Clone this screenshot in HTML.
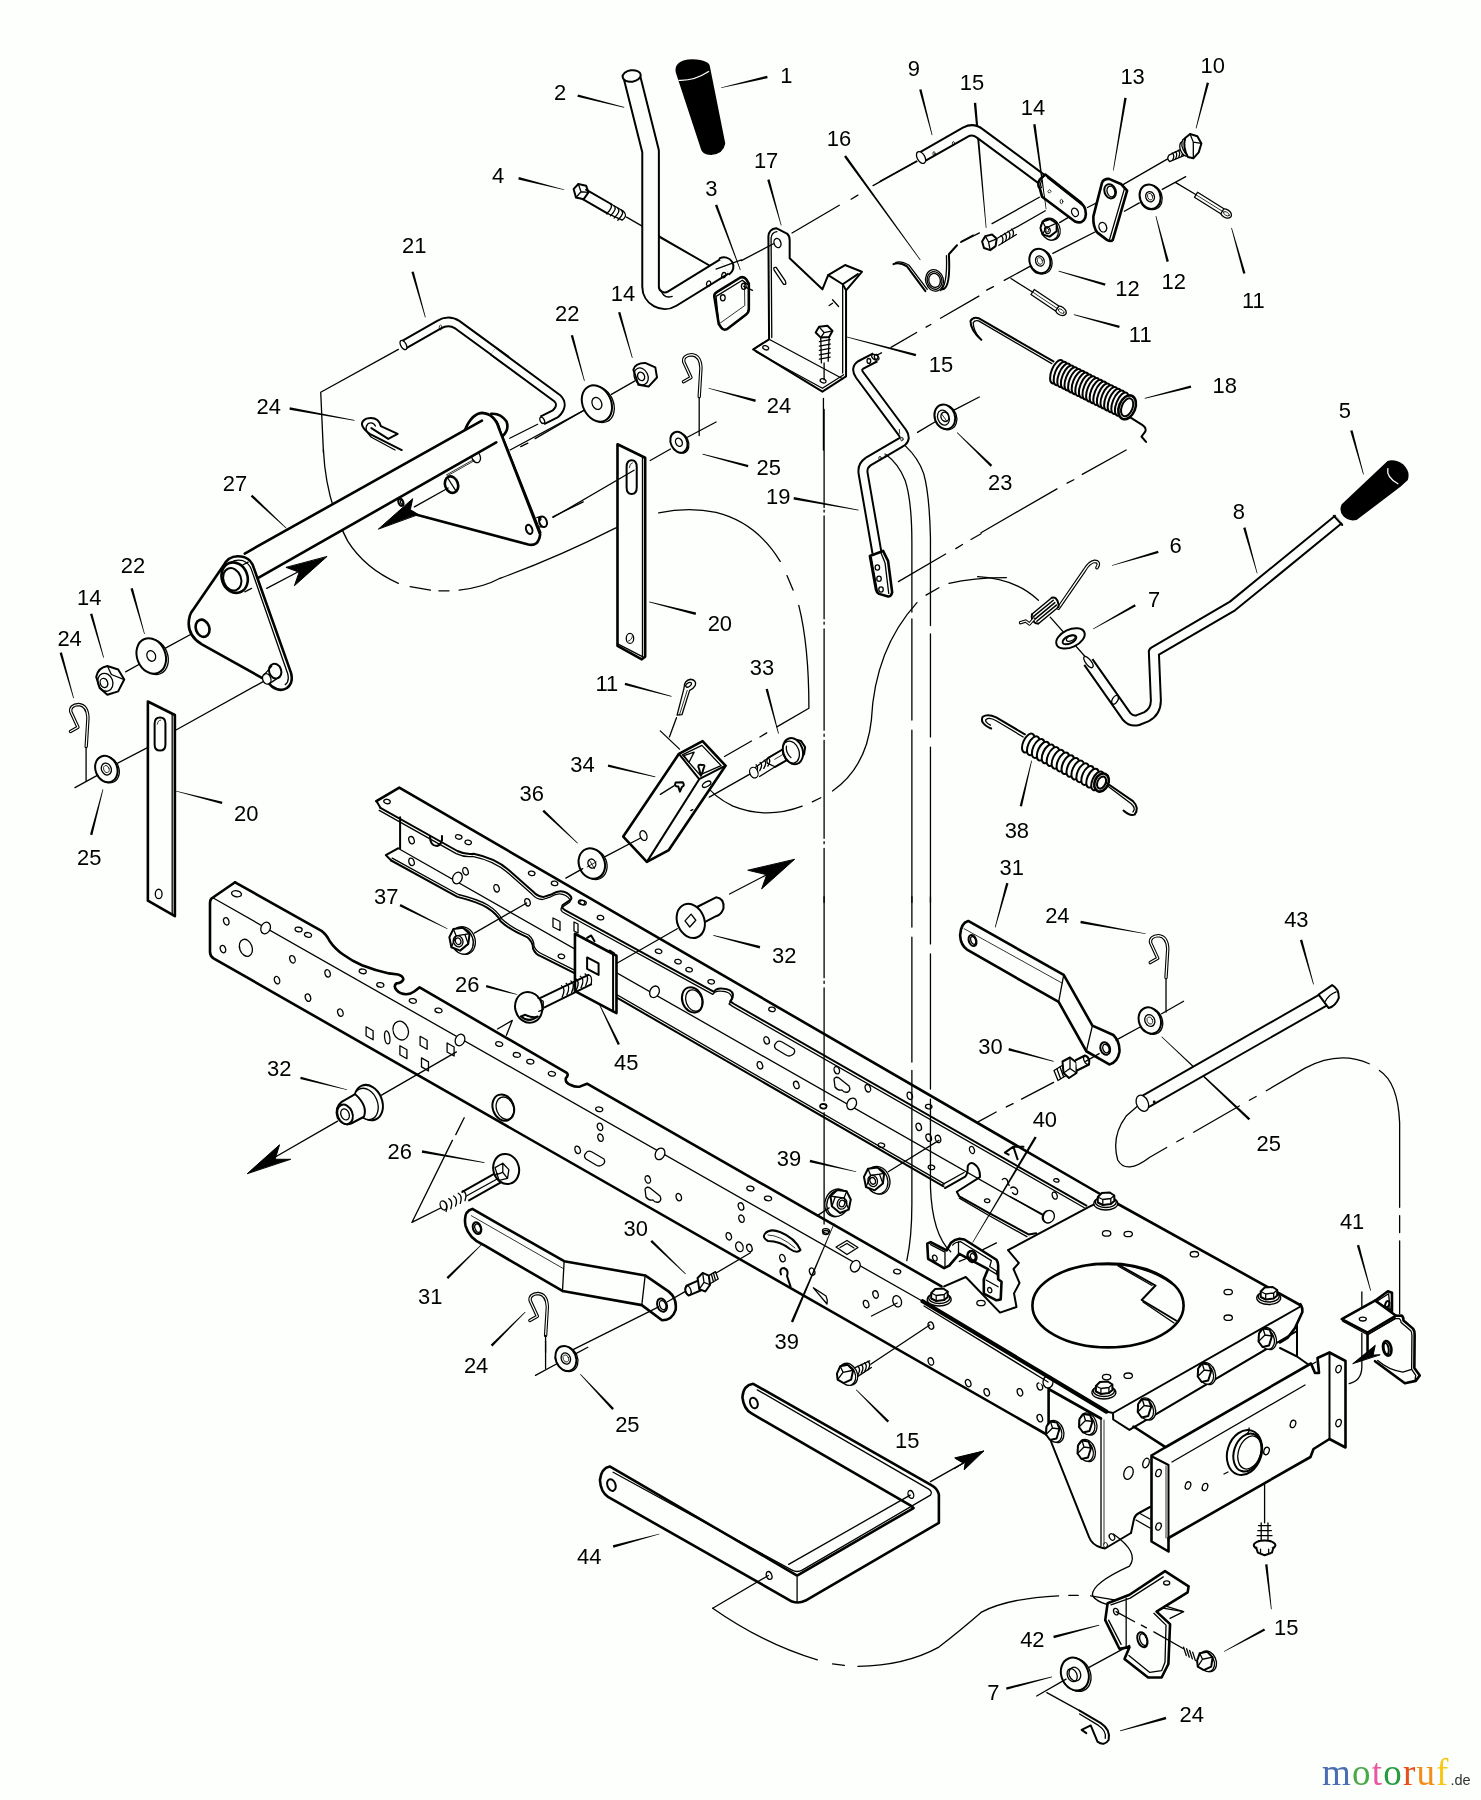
<!DOCTYPE html>
<html><head><meta charset="utf-8"><title>Frame parts diagram</title>
<style>
html,body{margin:0;padding:0;background:#fdfffc;}
body{width:1481px;height:1800px;overflow:hidden;}
svg{display:block;font-family:"Liberation Sans",sans-serif;will-change:transform;}
svg *{vector-effect:non-scaling-stroke;}
.d path,.d line,.d polyline,.d polygon,.d circle,.d ellipse,.d rect{fill:none;stroke:#000;stroke-width:1.5;stroke-linecap:round;stroke-linejoin:round;}
.d .k{stroke-width:2.6;}
.d .m{stroke-width:2.0;}
.d .t{stroke-width:1.3;}
.d .h{stroke-width:.8;}
.d .w{fill:#fdfffc;}
.d .b{fill:#000;}
.d text{fill:#000;stroke:none;font-size:65px;}
.d .dd{stroke-dasharray:60 8 8 8;stroke-width:1;stroke-linecap:butt;}
</style></head><body>
<svg class="d" width="1481" height="1800" viewBox="0 0 1481 1800">
<g transform="translate(0 0) scale(0.33761)">
<text x="1191" y="750">21</text>
<polygon class="b" style="stroke:none" points="1218.58,805.963 1225.42,804.037 1261,939.719 1259,940.281"/>
<text x="760" y="1227">24</text>
<polygon class="b" style="stroke:none" points="857.363,1213.5 858.637,1206.5 1050.19,1243.98 1049.81,1246.02"/>
<path class="t" d="M1180 1035 L950 1162 L958 1340"/>
<path d="M1195 1022 L1300 962 Q1328 945 1355 962 L1500 1068" style="stroke-width:10.5;stroke-linecap:butt"/>
<path d="M1195 1022 L1300 962 Q1328 945 1355 962 L1500 1068" style="stroke:#fdfffc;stroke-width:6.5;stroke-linecap:butt"/>
<ellipse class="t w" cx="1195" cy="1022" rx="8" ry="15" transform="rotate(-30 1195 1022)"/>
<ellipse class="h" cx="1305" cy="970" rx="4" ry="7"/>
<path class="m" d="M1190 1333 L1095 1285 Q1055 1255 1085 1240 Q1120 1232 1128 1262 L1178 1285 L1150 1300 L1100 1268"/>
<path class="t" d="M1170 1333 L1100 1295 Q1075 1270 1090 1255 Q1105 1248 1112 1262"/>
</g>
<g transform="translate(500 0) scale(0.33761)">
<text x="160" y="297">2</text>
<polygon class="b" style="stroke:none" points="229.126,286.445 230.874,279.555 368.255,316.995 367.745,319.005"/>
<text x="830" y="247">1</text>
<polygon class="b" style="stroke:none" points="791.192,224.539 792.808,231.461 655.236,261.01 654.764,258.99"/>
<text x="1208" y="224">9</text>
<polygon class="b" style="stroke:none" points="1241.56,265.892 1248.44,264.108 1281,399.74 1279,400.26"/>
<text x="1362" y="267">15</text>
<polygon class="b" style="stroke:none" points="1403.46,305.316 1410.54,304.684 1441.03,674.908 1438.97,675.092"/>
<text x="968" y="432">16</text>
<polygon class="b" style="stroke:none" points="1019.12,464.084 1024.88,459.916 1245.84,769.392 1244.16,770.608"/>
<text x="752" y="499">17</text>
<polygon class="b" style="stroke:none" points="791.577,532.957 798.423,531.043 833.998,667.721 832.002,668.279"/>
<text x="608" y="582">3</text>
<polygon class="b" style="stroke:none" points="636.67,608.242 643.33,605.758 712.971,799.638 711.029,800.362"/>
<text x="-24" y="542">4</text>
<polygon class="b" style="stroke:none" points="54.1319,531.447 55.8681,524.553 190.253,560.995 189.747,563.005"/>
<text x="328" y="892">14</text>
<polygon class="b" style="stroke:none" points="349.585,925.986 356.415,924.014 392.996,1059.71 391.004,1060.29"/>
<text x="163" y="952">22</text>
<polygon class="b" style="stroke:none" points="209.572,993.94 216.428,992.06 251,1127.73 249,1128.27"/>
<text x="790" y="1224">24</text>
<polygon class="b" style="stroke:none" points="757.914,1183.57 756.086,1190.43 617.733,1151 618.267,1149"/>
<text x="1270" y="1102">15</text>
<polygon class="b" style="stroke:none" points="1232.91,1048.56 1231.09,1055.44 1007.74,994.003 1008.26,991.997"/>
<path class="t" d="M375 643L640 797"/>
<path d="M390 225 L446 448 L446 849 A42 42 0 0 0 509.8 884.6 L665 789" style="stroke-width:18.6;stroke-linecap:butt"/>
<path d="M390 225 L446 448 L446 849 A42 42 0 0 0 509.8 884.6 L665 789" style="stroke:#fdfffc;stroke-width:14.6;stroke-linecap:butt"/>
<path class="m w" d="M650.6 765.6 A27.5 27.5 0 0 1 679.4 812.4"/>
<ellipse class="m w" cx="390" cy="225" rx="27" ry="17" transform="rotate(-8 390 225)"/>
<path class="t" d="M473 703L620 787"/>
<ellipse class="t" cx="618" cy="840" rx="6" ry="8" transform="rotate(20 618 840)"/>
<ellipse class="t" cx="663" cy="815" rx="6" ry="8" transform="rotate(20 663 815)"/>
<path class="t" d="M478 862 Q485 885 510 878"/>
<path class="b" d="M523 215 Q515 180 570 178 Q620 180 620 200 L665 425 Q660 455 625 457 Q600 455 597 440 Z"/>
<path class="t" d="M530 238 Q575 240 618 212" style="stroke:#fdfffc"/>
<path class="m w" d="M218 560 L232 545 L255 550 L262 570 L248 590 L225 585 Z"/>
<path class="t" d="M232 545 L240 568 L262 570 M240 568 L225 585"/>
<path class="m" d="M255 562 L330 605 M245 590 L318 632"/>
<path class="t" d="M330 605 L365 625 Q380 640 362 652 L318 632"/>
<path class="t" d="M326 603 q12 8 -10 30"/>
<path class="t" d="M337 609.5 q12 8 -10 30"/>
<path class="t" d="M348 616 q12 8 -10 30"/>
<path class="t" d="M359 622.5 q12 8 -10 30"/>
<path class="k w" d="M635 880 Q633 870 642 865 L712 822 Q722 818 730 828 L737 840 L737 915 Q737 925 728 932 L672 975 Q662 980 655 970 L648 960 Z"/>
<path class="t" d="M648 960 L640 878 L718 830 L737 845"/>
<path class="h" d="M648 960 L725 905 L724 836"/>
<ellipse class="t" cx="660" cy="882" rx="7" ry="9"/>
<ellipse class="t" cx="722" cy="848" rx="7" ry="9"/>
<path class="t" d="M722 848L748 860"/>
<path class="m w" d="M797 1005 L795 700 Q797 678 818 676 L850 692 Q858 698 858 712 L858 765 L955 857 L972 815 L1022 785 L1072 805 L1025 860 L1025 1115 L955 1160 L750 1035 Z"/>
<path class="t" d="M805 1000 L803 705 Q805 688 820 686"/>
<path class="t" d="M750 1035 L797 1005 L1015 1122"/>
<path class="t" d="M758 1042 L955 1150 L1018 1110"/>
<path class="m" d="M972 815 L1015 842 L1025 860 M1015 842 L1060 812"/>
<path class="t" d="M1015 842 L1015 1105"/>
<ellipse class="t" cx="822" cy="720" rx="10" ry="14" transform="rotate(-20 822 720)"/>
<path class="t" d="M812 800 Q808 790 818 792 L845 832 Q850 845 840 842 Z"/>
<ellipse class="t" cx="787" cy="1030" rx="9" ry="6" transform="rotate(20 787 1030)"/>
<ellipse class="t" cx="957" cy="1128" rx="9" ry="6" transform="rotate(20 957 1128)"/>
<path class="t" d="M985 888 L1003 908 M975 905 L985 898"/>
<path class="m w" d="M935 985 L945 968 L970 965 L985 980 L975 998 L950 1000 Z"/>
<path class="t" d="M945 968 L960 985 L985 980 M960 985 L950 1000"/>
<path class="t" d="M950 1000 L952 1075 M975 998 L972 1070"/>
<path class="t" d="M946 1012L978 1006"/>
<path class="t" d="M946 1025L978 1019"/>
<path class="t" d="M946 1038L978 1032"/>
<path class="t" d="M946 1051L978 1045"/>
<path class="t" d="M946 1064L978 1058"/>
<path class="t" d="M960 1075L960 1125"/>
<path class="t" d="M958 1180L958 1333"/>
<path class="t" d="M640 797 L715 770"/>
<path class="t" d="M715 772 L810 722 M865 690 L1005 608 M1040 590 L1060 578 M1105 550 L1235 478"/>
<path class="t" d="M1365 718 L1420 690"/>
<path class="t" d="M1276 961 L1262 969 M1234 985 L1158 1029 M1130 1045 L1114 1053"/>
<ellipse class="t w" cx="293.72" cy="1197.8" rx="42" ry="56" transform="rotate(-25 293.72 1197.8)"/>
<ellipse class="m w" cx="287" cy="1195" rx="42" ry="56" transform="rotate(-25 287 1195)"/>
<ellipse class="t" cx="287" cy="1195" rx="13.86" ry="18.48" transform="rotate(-25 287 1195)"/>
<path class="m w" d="M395 1095 Q400 1075 430 1075 L460 1088 L465 1118 L440 1145 L410 1140 Z"/>
<ellipse class="t" cx="418" cy="1115" rx="20" ry="26" transform="rotate(-25 418 1115)"/>
<ellipse class="t" cx="418" cy="1115" rx="10" ry="13" transform="rotate(-25 418 1115)"/>
<path class="t" d="M330 1168L400 1128"/>
<path class="t" d="M30 1333L250 1215"/>
<path d="M-20 1040 L170 1180 Q190 1200 165 1225 L125 1245" style="stroke-width:10.5;stroke-linecap:butt"/>
<path d="M-20 1040 L170 1180 Q190 1200 165 1225 L125 1245" style="stroke:#fdfffc;stroke-width:6.5;stroke-linecap:butt"/>
<ellipse class="t w" cx="125" cy="1245" rx="6" ry="10" transform="rotate(-30 125 1245)"/>
</g>
<g transform="translate(0 0) scale(1.00000)">
<g transform="translate(699.2 396.7)">
<path d="M0 0 L1.75 -28.75 Q1.25 -41.25 -7.5 -42 Q-16.25 -41.25 -15.5 -35 L-8.25 -19.25 L-15.75 -15" style="stroke-width:3.4;stroke-linecap:round"/>
<path d="M0 0 L1.75 -28.75 Q1.25 -41.25 -7.5 -42 Q-16.25 -41.25 -15.5 -35 L-8.25 -19.25 L-15.75 -15" style="stroke:#fdfffc;stroke-width:1.2;stroke-linecap:round"/>
</g>
</g>
<g transform="translate(500 0) scale(0.33761)">
<path class="t" d="M590 1178L590 1290"/>
<ellipse class="t w" cx="533.84" cy="1311.6" rx="24" ry="32" transform="rotate(-25 533.84 1311.6)"/>
<ellipse class="m w" cx="530" cy="1310" rx="24" ry="32" transform="rotate(-25 530 1310)"/>
<ellipse class="t" cx="530" cy="1310" rx="9.6" ry="12.8" transform="rotate(-25 530 1310)"/>
<path class="t" d="M555 1295L640 1250"/>
</g>
<g transform="translate(880 80) scale(0.27009)">
<path class="t" d="M0 375 L135 300 M300 598 L345 574 M415 532 L590 434 M500 548 L612 484 M665 528 L722 494 M1065 292 L895 390 M855 428 L768 472 M825 548 L640 642 M960 455 L905 486 M1045 405 L1132 358 M1095 380 L1172 426 M555 690 L460 742 M420 765 L395 778 M366 800 L224 882 M485 735 L566 786"/>
<path d="M150 288 L318 192 Q345 178 370 198 L605 372" style="stroke-width:12.2;stroke-linecap:butt"/>
<path d="M150 288 L318 192 Q345 178 370 198 L605 372" style="stroke:#fdfffc;stroke-width:8.2;stroke-linecap:butt"/>
<ellipse class="t w" cx="152" cy="287" rx="14" ry="24" transform="rotate(-30 152 287)"/>
<ellipse class="h" cx="200" cy="272" rx="4" ry="7"/>
<ellipse class="h" cx="272" cy="235" rx="4" ry="7"/>
<path class="k w" d="M592 402 Q580 385 592 368 L612 350 L745 455 Q768 478 760 510 Q748 535 722 524 L600 432 Z"/>
<path class="t" d="M600 372 Q590 385 598 398 M620 362 L750 465"/>
<path class="h" d="M622 412 l6 -6 l6 6 l-6 6 Z"/>
<ellipse class="h" cx="672" cy="450" rx="5" ry="8"/>
<ellipse class="t" cx="722" cy="490" rx="12" ry="16" transform="rotate(-25 722 490)"/>
<path class="m w" d="M378 598 L390 578 L415 572 L432 588 L428 615 L408 630 L385 622 Z"/>
<path class="t" d="M390 578 L402 600 L432 588 M402 600 L408 630"/>
<path class="t" d="M436 585 L498 548 M440 612 L505 572"/>
<path class="t" d="M448 576 q12 8 4 28"/>
<path class="t" d="M461 568 q12 8 4 28"/>
<path class="t" d="M474 560 q12 8 4 28"/>
<path class="t" d="M487 552 q12 8 4 28"/>
<ellipse class="t w" cx="632" cy="552" rx="34" ry="42" transform="rotate(-25 632 552)"/>
<ellipse class="t w" cx="628" cy="555" rx="31" ry="39" transform="rotate(-25 628 555)"/>
<path class="m w" d="M594 548 L602 524 L630 515 L654 530 L654 560 L628 580 L602 572 Z"/>
<path class="t" d="M602 524 L614 548 L602 572 M614 548 L654 530"/>
<ellipse class="t" cx="620" cy="556" rx="10" ry="13" transform="rotate(-20 620 556)"/>
<ellipse class="h" cx="620" cy="556" rx="5" ry="7" transform="rotate(-20 620 556)"/>
<path class="k w" d="M790 505 L822 380 Q828 365 848 366 L892 385 L915 410 L862 592 Q855 600 840 592 L805 565 Q788 545 790 505 Z"/>
<path class="t" d="M892 385 L905 402 L850 590"/>
<ellipse class="m" cx="852" cy="412" rx="21" ry="27" transform="rotate(-20 852 412)"/>
<ellipse class="t" cx="855" cy="413" rx="14" ry="20" transform="rotate(-20 855 413)"/>
<ellipse class="t" cx="825" cy="545" rx="14" ry="18" transform="rotate(-20 825 545)"/>
<path class="t w" d="M1070 278 Q1060 290 1072 302 L1125 280 L1118 255 Z"/>
<path class="t" d="M1082 270 q10 8 2 26"/>
<path class="t" d="M1093 265 q10 8 2 26"/>
<path class="t" d="M1104 260 q10 8 2 26"/>
<path class="t" d="M1115 255 q10 8 2 26"/>
<ellipse class="t w" cx="1128" cy="255" rx="16" ry="28" transform="rotate(-22 1128 255)"/>
<ellipse class="t w" cx="1140" cy="248" rx="20" ry="34" transform="rotate(-22 1140 248)"/>
<path class="m w" d="M1130 215 L1148 200 L1175 208 L1190 235 L1180 268 L1160 290 L1140 285 Q1120 250 1130 215 Z"/>
<path class="t" d="M1148 200 L1160 230 L1190 235 M1160 230 L1160 290"/>
<ellipse class="t w" cx="1006.08" cy="434.3" rx="38" ry="46" transform="rotate(-20 1006.08 434.3)"/>
<ellipse class="m w" cx="1000" cy="432" rx="38" ry="46" transform="rotate(-20 1000 432)"/>
<ellipse class="t" cx="1000" cy="432" rx="15.96" ry="19.32" transform="rotate(-20 1000 432)"/>
<ellipse class="h" cx="1000" cy="432" rx="9" ry="13" transform="rotate(-20 1000 432)"/>
<path class="t" d="M965 452 Q985 490 1020 476"/>
<ellipse class="t w" cx="598.08" cy="672.3" rx="38" ry="46" transform="rotate(-20 598.08 672.3)"/>
<ellipse class="m w" cx="592" cy="670" rx="38" ry="46" transform="rotate(-20 592 670)"/>
<ellipse class="t" cx="592" cy="670" rx="15.96" ry="19.32" transform="rotate(-20 592 670)"/>
<ellipse class="h" cx="592" cy="670" rx="9" ry="13" transform="rotate(-20 592 670)"/>
<path class="t" d="M557 690 Q577 728 612 714"/>
<ellipse class="t w" cx="1281.04" cy="494.4" rx="22" ry="15" transform="rotate(32.0054 1281.04 494.4)"/>
<ellipse class="h" cx="1282.74" cy="495.46" rx="12" ry="6" transform="rotate(32.0054 1282.74 495.46)"/>
<path class="t w" d="M1164.17 434.328 L1261.64 495.248 L1273.3 476.592 L1175.83 415.672 Z"/>
<path class="h" d="M1170 425L1272.56 489.1"/>
<ellipse class="t w" cx="669.38" cy="854.874" rx="22" ry="15" transform="rotate(33.7992 669.38 854.874)"/>
<ellipse class="h" cx="671.042" cy="855.987" rx="12" ry="6" transform="rotate(33.7992 671.042 855.987)"/>
<path class="t w" d="M558.881 794.141 L649.965 855.115 L662.203 836.833 L571.119 775.859 Z"/>
<path class="h" d="M565 785L661.07 849.311"/>
<path class="m" d="M50 682 Q70 672 100 690 L168 782"/>
<path class="t" d="M58 676 Q75 668 108 686 L175 775"/>
<ellipse class="t" cx="202" cy="742" rx="32.8" ry="40" transform="rotate(-15 202 742)"/>
<ellipse class="t" cx="202" cy="742" rx="27.06" ry="33" transform="rotate(-15 202 742)"/>
<ellipse class="t" cx="202" cy="742" rx="21.32" ry="26" transform="rotate(-15 202 742)"/>
<path class="m" d="M232 775 Q262 770 255 645 L285 612"/>
<path class="t" d="M224 780 Q250 760 246 650"/>
<path class="m" d="M375 962 Q335 925 335 892 Q345 875 365 882 L642 1042"/>
<path class="t" d="M368 955 Q345 925 345 898 Q352 888 365 892 L636 1050"/>
<ellipse class="m w" cx="655" cy="1080" rx="20" ry="46" transform="rotate(22 655 1080)"/>
<ellipse class="m w" cx="668.333" cy="1086.67" rx="20" ry="46" transform="rotate(22 668.333 1086.67)"/>
<ellipse class="m w" cx="681.667" cy="1093.33" rx="20" ry="46" transform="rotate(22 681.667 1093.33)"/>
<ellipse class="m w" cx="695" cy="1100" rx="20" ry="46" transform="rotate(22 695 1100)"/>
<ellipse class="m w" cx="708.333" cy="1106.67" rx="20" ry="46" transform="rotate(22 708.333 1106.67)"/>
<ellipse class="m w" cx="721.667" cy="1113.33" rx="20" ry="46" transform="rotate(22 721.667 1113.33)"/>
<ellipse class="m w" cx="735" cy="1120" rx="20" ry="46" transform="rotate(22 735 1120)"/>
<ellipse class="m w" cx="748.333" cy="1126.67" rx="20" ry="46" transform="rotate(22 748.333 1126.67)"/>
<ellipse class="m w" cx="761.667" cy="1133.33" rx="20" ry="46" transform="rotate(22 761.667 1133.33)"/>
<ellipse class="m w" cx="775" cy="1140" rx="20" ry="46" transform="rotate(22 775 1140)"/>
<ellipse class="m w" cx="788.333" cy="1146.67" rx="20" ry="46" transform="rotate(22 788.333 1146.67)"/>
<ellipse class="m w" cx="801.667" cy="1153.33" rx="20" ry="46" transform="rotate(22 801.667 1153.33)"/>
<ellipse class="m w" cx="815" cy="1160" rx="20" ry="46" transform="rotate(22 815 1160)"/>
<ellipse class="m w" cx="828.333" cy="1166.67" rx="20" ry="46" transform="rotate(22 828.333 1166.67)"/>
<ellipse class="m w" cx="841.667" cy="1173.33" rx="20" ry="46" transform="rotate(22 841.667 1173.33)"/>
<ellipse class="m w" cx="855" cy="1180" rx="20" ry="46" transform="rotate(22 855 1180)"/>
<ellipse class="m w" cx="868.333" cy="1186.67" rx="20" ry="46" transform="rotate(22 868.333 1186.67)"/>
<ellipse class="m w" cx="881.667" cy="1193.33" rx="20" ry="46" transform="rotate(22 881.667 1193.33)"/>
<ellipse class="m w" cx="895" cy="1200" rx="20" ry="46" transform="rotate(22 895 1200)"/>
<ellipse class="k w" cx="915" cy="1212" rx="30" ry="46" transform="rotate(22 915 1212)"/>
<ellipse class="m" cx="915" cy="1212" rx="20" ry="35" transform="rotate(22 915 1212)"/>
<path class="m" d="M928 1250 L972 1278 Q990 1290 980 1305 L968 1320 L985 1340"/>
</g>
<g transform="translate(981 0) scale(0.33761)">
<text x="650" y="215">10</text>
<polygon class="b" style="stroke:none" points="668.559,244.108 675.441,245.892 638.004,380.26 635.996,379.74"/>
<text x="413" y="250">13</text>
<polygon class="b" style="stroke:none" points="424.494,289.413 431.506,290.587 393.022,505.171 390.978,504.829"/>
<text x="118" y="340">14</text>
<polygon class="b" style="stroke:none" points="154.479,368.489 161.521,367.511 194.027,619.857 191.973,620.143"/>
<text x="398" y="877">12</text>
<polygon class="b" style="stroke:none" points="368.99,839.586 367.01,846.414 229.711,803.996 230.289,802.004"/>
<text x="535" y="855">12</text>
<polygon class="b" style="stroke:none" points="556.441,774.108 549.559,775.892 516.996,640.26 519.004,639.74"/>
<text x="773" y="913">11</text>
<polygon class="b" style="stroke:none" points="783.421,809.037 776.579,810.963 741.002,675.281 742.998,674.719"/>
<text x="438" y="1013">11</text>
<polygon class="b" style="stroke:none" points="410.916,964.566 409.084,971.434 274.733,933.002 275.267,930.998"/>
<text x="686" y="1165">18</text>
<polygon class="b" style="stroke:none" points="621.12,1141.56 622.88,1148.44 485.257,1181 484.743,1179"/>
<text x="1060" y="1238">5</text>
<polygon class="b" style="stroke:none" points="1093.57,1275.95 1100.43,1274.05 1134,1404.72 1132,1405.28"/>
</g>
<g transform="translate(0 450) scale(0.33761)">
<text x="660" y="120">27</text>
<polygon class="b" style="stroke:none" points="742.563,137.588 747.437,132.412 848.711,231.245 847.289,232.755"/>
<text x="358" y="365">22</text>
<polygon class="b" style="stroke:none" points="386.579,410.963 393.421,409.037 428.998,544.719 427.002,545.281"/>
<text x="228" y="458">14</text>
<polygon class="b" style="stroke:none" points="266.581,485.973 273.419,484.027 307.997,614.716 306.003,615.284"/>
<text x="170" y="580">24</text>
<polygon class="b" style="stroke:none" points="176.579,600.963 183.421,599.037 218.998,734.719 217.002,735.281"/>
<text x="693" y="1098">20</text>
<polygon class="b" style="stroke:none" points="658.874,1041.55 657.126,1048.45 519.745,1011 520.255,1009"/>
<text x="228" y="1228">25</text>
<polygon class="b" style="stroke:none" points="273.441,1140.89 266.559,1139.11 303.996,1004.74 306.004,1005.26"/>
<path class="t" d="M958 0 Q965 150 1030 270 Q1080 350 1180 395"/>
<path class="t" d="M1215 405 L1275 415 M1300 417 L1330 417 M1360 415 Q1430 408 1481 380"/>
<path class="t" d="M490 587L582 537"/>
<path class="t" d="M372 657L430 625"/>
<path class="t" d="M520 830L790 680"/>
<path class="t" d="M222 1000L295 960"/>
<path class="t" d="M340 932L478 860"/>
<path class="t" d="M255 880L255 980"/>
</g>
<g transform="translate(330 380) scale(0.16880)">
<path class="t" d="M1065 345 L1230 262 M1130 395 L1172 374 M1215 347 L1500 182 M1320 810 L1500 722"/>
<path class="k w" d="M955 200 Q1010 195 1045 245 Q1065 295 1020 335"/>
<ellipse class="m w" cx="1262" cy="840" rx="22" ry="32" transform="rotate(-20 1262 840)"/>
<ellipse class="t" cx="1243" cy="822" rx="6" ry="9" transform="rotate(-20 1243 822)"/>
<path class="t" d="M1225 815 L1250 808 M1238 870 L1265 870"/>
<path class="w" d="M480 790 L1175 975 Q1235 988 1245 915 L1000 285 Q975 200 900 195 Q840 200 800 295 Z" style="stroke:none"/>
<path class="k" d="M480 790 L1175 975 Q1235 988 1245 915 L1000 285 Q975 200 900 195 Q840 200 800 295"/>
<path class="t" d="M985 240 Q1000 260 1010 300 L1250 905"/>
<ellipse class="t" cx="865" cy="455" rx="25" ry="36" transform="rotate(-20 865 455)"/>
<ellipse class="k" cx="720" cy="620" rx="38" ry="50" transform="rotate(-20 720 620)"/>
<path class="t" d="M700 585L745 655"/>
<ellipse class="m" cx="1180" cy="885" rx="18" ry="28" transform="rotate(-20 1180 885)"/>
<path class="h" d="M690 562 L850 472 M695 568 L855 478"/>
<path class="t" d="M500 752L700 640"/>
<path class="w" d="M-520 1037 L900 240 L985 370 L-480 1203 Z" style="stroke:none"/>
<path class="k" d="M-505 1028L900 240"/>
<path class="k" d="M-425 1172L985 370"/>
<ellipse class="m w" cx="420" cy="725" rx="14" ry="22" transform="rotate(-20 420 725)"/>
<ellipse class="t" cx="425" cy="725" rx="7" ry="12" transform="rotate(-20 425 725)"/>
<path class="b" d="M288 882 L490 703 L476 768 L522 796 Z" style="stroke-width:1"/>
</g>
<g transform="translate(0 450) scale(0.33761)">
<path class="t" d="M790 410L885 360"/>
<path class="b" d="M968 316 L872 402 L886 362 L848 348 Z" style="stroke-width:1"/>
<path class="k w" d="M660 345 Q680 305 725 318 Q745 325 752 350 L862 660 Q870 690 850 705 Q830 718 805 700 L785 680 L598 576 Q548 545 562 492 Q565 482 570 476 Z"/>
<path class="t" d="M668 352 Q685 320 720 328 Q738 335 745 355 L852 662 Q858 685 845 695"/>
<ellipse class="k w" cx="695" cy="378" rx="38" ry="46" transform="rotate(-20 695 378)"/>
<ellipse class="m" cx="688" cy="383" rx="26" ry="34" transform="rotate(-20 688 383)"/>
<path class="t" d="M720 340 L735 332 M725 420 L745 410"/>
<ellipse class="k" cx="600" cy="528" rx="20" ry="26" transform="rotate(-20 600 528)"/>
<ellipse class="m w" cx="815" cy="655" rx="18" ry="22" transform="rotate(-20 815 655)"/>
<ellipse class="t w" cx="790" cy="678" rx="12" ry="16" transform="rotate(-20 790 678)"/>
<path class="t" d="M782 666 L805 640 M798 692 L828 672"/>
<ellipse class="t w" cx="454.72" cy="612.7" rx="42" ry="54" transform="rotate(-22 454.72 612.7)"/>
<ellipse class="m w" cx="448" cy="610" rx="42" ry="54" transform="rotate(-22 448 610)"/>
<ellipse class="t" cx="448" cy="610" rx="12.6" ry="16.2" transform="rotate(-22 448 610)"/>
<path class="m w" d="M285 672 Q290 645 318 640 L350 650 L368 680 L350 715 L318 725 L295 705 Z"/>
<ellipse class="t" cx="312" cy="688" rx="22" ry="27" transform="rotate(-20 312 688)"/>
<ellipse class="t" cx="308" cy="690" rx="11" ry="14" transform="rotate(-20 308 690)"/>
<path class="t" d="M318 640 L330 665 L368 680"/>
</g>
<g transform="translate(0 0) scale(1.00000)">
<g transform="translate(86.2 746.5)">
<path d="M0 0 L1.75 -28.75 Q1.25 -41.25 -7.5 -42 Q-16.25 -41.25 -15.5 -35 L-8.25 -19.25 L-15.75 -15" style="stroke-width:3.4;stroke-linecap:round"/>
<path d="M0 0 L1.75 -28.75 Q1.25 -41.25 -7.5 -42 Q-16.25 -41.25 -15.5 -35 L-8.25 -19.25 L-15.75 -15" style="stroke:#fdfffc;stroke-width:1.2;stroke-linecap:round"/>
</g>
</g>
<g transform="translate(0 450) scale(0.33761)">
<ellipse class="t w" cx="320.12" cy="947" rx="32" ry="40" transform="rotate(-22 320.12 947)"/>
<ellipse class="m w" cx="315" cy="945" rx="32" ry="40" transform="rotate(-22 315 945)"/>
<ellipse class="t" cx="315" cy="945" rx="14.4" ry="18" transform="rotate(-22 315 945)"/>
<ellipse class="h" cx="315" cy="945" rx="8" ry="11" transform="rotate(-22 315 945)"/>
<path class="k w" d="M438 745 L518 785 L518 1381 L438 1335 Z"/>
<path class="t" d="M510 782L510 1376"/>
<path class="m" d="M458 810 Q458 792 474 792 Q490 792 490 810 L490 872 Q490 890 474 890 Q458 890 458 872 Z"/>
<path class="h" d="M466 812 Q468 800 476 800"/>
<ellipse class="t" cx="470" cy="1315" rx="10" ry="14"/>
</g>
<g transform="translate(800 320) scale(0.20257)">
<text style="font-size:108px" x="928" y="838">23</text>
<polygon class="b" style="stroke:none" points="949.126,715.749 940.874,724.251 773.797,556.24 776.203,553.76"/>
<path class="t" d="M885 380 L760 445 M680 495 L580 555"/>
<path d="M372 184 L300 222 Q272 240 295 272 L505 555 Q528 588 495 606 L335 700 Q305 720 312 760 L380 1150" style="stroke-width:11;stroke-linecap:butt"/>
<path d="M372 184 L300 222 Q272 240 295 272 L505 555 Q528 588 495 606 L335 700 Q305 720 312 760 L380 1150" style="stroke:#fdfffc;stroke-width:7;stroke-linecap:butt"/>
<ellipse class="t w" cx="372" cy="184" rx="12" ry="20" transform="rotate(-60 372 184)"/>
<ellipse class="t" cx="340" cy="202" rx="9" ry="12"/>
<ellipse class="t" cx="376" cy="182" rx="9" ry="12"/>
<ellipse class="h" cx="503" cy="588" rx="6" ry="9"/>
<ellipse class="h" cx="395" cy="682" rx="6" ry="9"/>
<path class="h" d="M490 540 L492 560 M420 660 L422 678"/>
<path class="k w" d="M345 1165 L410 1140 L435 1190 L455 1345 Q450 1365 435 1365 L390 1352 Q378 1345 375 1330 Z"/>
<path class="t" d="M400 1150 L420 1200 L438 1350 M352 1172 L382 1340"/>
<ellipse class="t" cx="382" cy="1222" rx="11" ry="13"/>
<ellipse class="t" cx="390" cy="1277" rx="11" ry="13"/>
<ellipse class="t" cx="400" cy="1330" rx="11" ry="13"/>
<ellipse class="t w" cx="723" cy="481.1" rx="50" ry="62" transform="rotate(-20 723 481.1)"/>
<ellipse class="m w" cx="715" cy="478" rx="50" ry="62" transform="rotate(-20 715 478)"/>
<ellipse class="t" cx="715" cy="478" rx="19" ry="23.56" transform="rotate(-20 715 478)"/>
<ellipse class="t" cx="708" cy="482" rx="28" ry="38" transform="rotate(-20 708 482)"/>
<path class="h" d="M700 465L725 500"/>
</g>
<g transform="translate(500 450) scale(0.33761)">
<text x="760" y="75">25</text>
<polygon class="b" style="stroke:none" points="735.916,44.5656 734.084,51.4344 599.733,13.0017 600.267,10.9983"/>
<text x="788" y="160">19</text>
<polygon class="b" style="stroke:none" points="869.363,146.497 870.637,139.503 1062.19,176.98 1061.81,179.02"/>
<text x="615" y="535">20</text>
<polygon class="b" style="stroke:none" points="580.874,481.555 579.126,488.445 441.745,451.005 442.255,448.995"/>
<text x="283" y="715">11</text>
<polygon class="b" style="stroke:none" points="369.08,696.433 370.92,689.567 508.268,728.999 507.732,731.001"/>
<text x="740" y="665">33</text>
<polygon class="b" style="stroke:none" points="786.564,708.911 793.436,707.089 826.002,839.734 823.998,840.266"/>
<text x="208" y="955">34</text>
<polygon class="b" style="stroke:none" points="319.185,938.46 320.815,931.54 460.238,966.991 459.762,969.009"/>
<text x="58" y="1040">36</text>
<polygon class="b" style="stroke:none" points="125.551,1070.58 130.449,1065.42 230.714,1164.25 229.286,1165.75"/>
<path class="t" d="M0 380 Q170 318 340 232 L430 196 M470 186 Q560 168 640 185 Q760 215 830 330 M850 372 L868 415 M885 460 Q915 580 915 765 L820 820"/>
<path class="t" d="M790 838 L770 850 M745 862 L665 908"/>
<path class="t" d="M960 -120 L960 170 M960 178 L960 184 M960 195 L960 500 M960 510 L960 516 M960 530 L960 830 M960 842 L960 848 M960 860 L960 1150 M960 1160 L960 1166 M960 1180 L960 1340"/>
<path class="t" d="M1144 14 Q1180 40 1200 90 Q1220 150 1220 275 L1220 480 M1220 500 L1220 800 M1220 830 L1220 1340"/>
<path class="t" d="M1200 -13 Q1240 25 1255 70 Q1272 130 1275 260 L1275 520 M1275 545 L1275 850 M1275 880 L1275 1340"/>
<path class="t" d="M1500 378 Q1400 378 1330 395 M1300 408 L1262 430 M1235 452 Q1110 590 1100 800 Q1085 940 985 1010 M950 1030 L925 1042 M895 1055 Q790 1095 690 1055 Q630 1025 610 990"/>
<path class="t" d="M1425 248 L1395 265 M1370 280 L1350 292 M1320 308 L1180 390"/>
<path class="k w" d="M348 -17 L348 580 L420 620 L430 612 L430 23 Z"/>
<path class="t" d="M422 20 L422 612 M350 575 L422 612"/>
<path class="t" d="M157 200L397 60"/>
<path class="t" d="M445 31L505 -3"/>
<path class="m" d="M375 50 Q375 30 390 30 Q405 30 405 50 L405 110 Q405 130 390 130 Q375 130 375 110 Z"/>
<path class="h" d="M383 52 Q384 40 392 38"/>
<ellipse class="t" cx="385" cy="558" rx="11" ry="15"/>
<path class="h" d="M380 566 Q392 562 392 550"/>
</g>
<g transform="translate(560 660) scale(0.20257)">
<path class="t" d="M575 285 L540 380 M495 350 L590 440"/>
<path class="t w" d="M578 272 L612 140 Q612 100 645 95 Q675 100 668 125 Q660 140 640 150 L602 270 Z"/>
<ellipse class="t" cx="635" cy="122" rx="16" ry="9" transform="rotate(-35 635 122)"/>
<path class="h" d="M590 270L628 150"/>
<path class="m" d="M1115 432 L1030 482 M1142 482 L1062 527"/>
<path class="t" d="M1030 482 Q1015 495 1025 510 L1062 527"/>
<path class="h" d="M1060 490 L1120 455"/>
<path class="t" d="M1030 482 L962 532 M1062 527 L985 575"/>
<path class="t" d="M1028 484 q16 10 -2 40"/>
<path class="t" d="M1008 495 q16 10 -2 40"/>
<path class="t" d="M988 506 q16 10 -2 40"/>
<path class="t" d="M968 517 q16 10 -2 40"/>
<ellipse class="t w" cx="957" cy="556" rx="20" ry="27" transform="rotate(-20 957 556)"/>
<path class="m" d="M1160 392 L1190 400 L1210 430 L1205 465 L1185 490"/>
<ellipse class="m w" cx="1150" cy="450" rx="48" ry="66" transform="rotate(-18 1150 450)"/>
<ellipse class="t" cx="1140" cy="455" rx="40" ry="56" transform="rotate(-18 1140 455)"/>
<path class="t" d="M1118 425 Q1112 455 1140 482"/>
</g>
<g transform="translate(500 450) scale(0.33761)">
<path class="k w" d="M530 900 L600 862 L668 935 L500 1185 L435 1220 L365 1145 Z"/>
<path class="m" d="M530 900 L590 975 L668 935 M590 975 L435 1220"/>
<path class="t" d="M540 903 L598 875 L655 935 L592 962 Z"/>
<path class="t" d="M545 905 L575 895 L560 925 Z"/>
<path class="m" d="M590 945 q-8 -15 8 -12 q12 -2 5 10 q-2 10 -8 22 Z"/>
<path class="m" d="M520 985 q-5 12 8 12 l5 15 l6 -14 q10 -4 2 -14 Z"/>
<path class="t" d="M475 1020L515 995"/>
<ellipse class="t" cx="425" cy="1142" rx="10" ry="15" transform="rotate(-20 425 1142)"/>
<ellipse class="t" cx="612" cy="990" rx="14" ry="7" transform="rotate(-30 612 990)"/>
<path class="t" d="M565 1068 l6 -3"/>
<path class="t" d="M740 960L620 1028"/>
<ellipse class="t w" cx="278.08" cy="1227.3" rx="38" ry="46" transform="rotate(-22 278.08 1227.3)"/>
<ellipse class="m w" cx="272" cy="1225" rx="38" ry="46" transform="rotate(-22 272 1225)"/>
<ellipse class="t" cx="272" cy="1225" rx="11.4" ry="13.8" transform="rotate(-22 272 1225)"/>
<path class="h" d="M265 1215L280 1240"/>
<path class="h" d="M258 1235L285 1220"/>
<path class="t" d="M310 1205L415 1150"/>
<path class="t" d="M195 1268L245 1240"/>
<path class="t" d="M680 1315L790 1258"/>
<path class="b" d="M872 1213 L775 1300 L790 1258 L735 1245 Z" style="stroke-width:1"/>
</g>
<g transform="translate(981 450) scale(0.33761)">
<text x="746" y="205">8</text>
<polygon class="b" style="stroke:none" points="776.579,230.963 783.421,229.037 818.998,364.719 817.002,365.281"/>
<text x="558" y="305">6</text>
<polygon class="b" style="stroke:none" points="524.004,298.588 525.996,305.412 388.291,342.995 387.709,341.005"/>
<text x="495" y="465">7</text>
<polygon class="b" style="stroke:none" points="455.263,456.899 458.737,463.101 332.507,530.905 331.493,529.095"/>
<text x="70" y="1148">38</text>
<polygon class="b" style="stroke:none" points="121.459,1055.82 114.541,1054.18 148.991,919.761 151.009,920.239"/>
<text x="55" y="1258">31</text>
<polygon class="b" style="stroke:none" points="74.5727,1282.06 81.4273,1283.94 42.9996,1414.27 41.0004,1413.73"/>
<path class="t" d="M430 0 L300 72 M275 88 L255 98 M225 115 L0 245"/>
<path class="t" d="M-10 375 Q100 380 170 445"/>
<path class="t" d="M205 495L320 625"/>
<path class="b" d="M1205 35 Q1225 28 1250 45 Q1270 65 1262 88 L1240 108 L1112 205 Q1090 210 1075 195 Q1062 180 1070 162 Z"/>
<path class="t" d="M1205 55 Q1200 80 1235 100" style="stroke:#fdfffc"/>
<path d="M1060 205 L745 462 L512 598 L518 742 Q518 775 490 790 L465 800 Q445 805 432 790 L318 628" style="stroke-width:12;stroke-linecap:butt"/>
<path d="M1060 205 L745 462 L512 598 L518 742 Q518 775 490 790 L465 800 Q445 805 432 790 L318 628" style="stroke:#fdfffc;stroke-width:8;stroke-linecap:butt"/>
<path class="m" d="M1045 195 L1070 222"/>
<ellipse class="t w" cx="318" cy="628" rx="20" ry="8" transform="rotate(52 318 628)"/>
<ellipse class="t w" cx="397" cy="740" rx="8" ry="14" transform="rotate(30 397 740)"/>
</g>
<g transform="translate(1000 540) scale(0.13504)">
<path d="M432 505 L625 225 Q660 165 700 158 Q745 160 718 205" style="stroke-width:3.6;stroke-linecap:round"/>
<path d="M432 505 L625 225 Q660 165 700 158 Q745 160 718 205" style="stroke:#fdfffc;stroke-width:1.4;stroke-linecap:round"/>
<path class="w" d="M240 545 L385 425 Q420 420 432 470 Q440 500 420 520 L290 620 Q255 625 240 590 Z" style="stroke:none"/>
<path d="M238 548 L383 428"/>
<path d="M249.5 566 L394.5 446"/>
<path d="M261 584 L406 464"/>
<path d="M272.5 602 L417.5 482"/>
<path d="M284 620 L429 500"/>
<path class="m" d="M383 428 Q420 418 432 470 Q438 500 428 498"/>
<path class="m" d="M238 548 Q228 580 250 605 Q265 622 283 618"/>
<path d="M250 585 L218 622 L190 600 L152 612" style="stroke-width:3.4;stroke-linecap:round"/>
<path d="M250 585 L218 622 L190 600 L152 612" style="stroke:#fdfffc;stroke-width:1.2;stroke-linecap:round"/>
</g>
<g transform="translate(981 450) scale(0.33761)">
<ellipse class="m w" cx="265" cy="558" rx="45" ry="26" transform="rotate(-25 265 558)"/>
<ellipse class="m" cx="262" cy="562" rx="22" ry="11" transform="rotate(-25 262 562)"/>
<ellipse class="t" cx="266" cy="558" rx="14" ry="7" transform="rotate(-25 266 558)"/>
<path class="m" d="M30 825 Q-5 810 5 790 Q20 780 45 792 L130 842"/>
<path class="t" d="M28 815 Q10 805 15 798 Q25 790 45 802 L125 850"/>
<ellipse class="m w" cx="140" cy="868" rx="15" ry="30" transform="rotate(25 140 868)"/>
<ellipse class="m w" cx="154.643" cy="876" rx="15" ry="30" transform="rotate(25 154.643 876)"/>
<ellipse class="m w" cx="169.286" cy="884" rx="15" ry="30" transform="rotate(25 169.286 884)"/>
<ellipse class="m w" cx="183.929" cy="892" rx="15" ry="30" transform="rotate(25 183.929 892)"/>
<ellipse class="m w" cx="198.571" cy="900" rx="15" ry="30" transform="rotate(25 198.571 900)"/>
<ellipse class="m w" cx="213.214" cy="908" rx="15" ry="30" transform="rotate(25 213.214 908)"/>
<ellipse class="m w" cx="227.857" cy="916" rx="15" ry="30" transform="rotate(25 227.857 916)"/>
<ellipse class="m w" cx="242.5" cy="924" rx="15" ry="30" transform="rotate(25 242.5 924)"/>
<ellipse class="m w" cx="257.143" cy="932" rx="15" ry="30" transform="rotate(25 257.143 932)"/>
<ellipse class="m w" cx="271.786" cy="940" rx="15" ry="30" transform="rotate(25 271.786 940)"/>
<ellipse class="m w" cx="286.429" cy="948" rx="15" ry="30" transform="rotate(25 286.429 948)"/>
<ellipse class="m w" cx="301.071" cy="956" rx="15" ry="30" transform="rotate(25 301.071 956)"/>
<ellipse class="m w" cx="315.714" cy="964" rx="15" ry="30" transform="rotate(25 315.714 964)"/>
<ellipse class="m w" cx="330.357" cy="972" rx="15" ry="30" transform="rotate(25 330.357 972)"/>
<ellipse class="m w" cx="345" cy="980" rx="15" ry="30" transform="rotate(25 345 980)"/>
<ellipse class="k w" cx="357" cy="985" rx="20" ry="28" transform="rotate(25 357 985)"/>
<ellipse class="m" cx="357" cy="985" rx="12" ry="19" transform="rotate(25 357 985)"/>
<path class="m" d="M370 985 L450 1040 Q470 1060 455 1080 Q440 1085 422 1068"/>
<path class="t" d="M375 995 L445 1048 Q460 1062 450 1072"/>
</g>
<g transform="translate(0 0) scale(1.00000)">
<path class="w" d="M399.3 787.6 L1105 1198 L1086 1206 L943 1186 L560 964 L391 860 L376 801 Z" style="stroke:none"/>
<path class="k" d="M376.4 801.1 L399.3 787.6 L1105.3 1197"/>
<path class="m" d="M376.4 801.1 L380.4 807.8 M400.1 817.3 L400.1 848.3 M398 848.3 L385.8 855.1 L391.2 860.5"/>
<path class="m" d="M380.4 807.8 L457.4 851 Q466 855 473.6 853.7 Q495 858 508.7 869.9 L533 891.5 Q538 897 543.8 896.9 L551.9 894.2 Q560 889 566.8 892.9 Q573 897 570.8 899.6 L562.7 905 Q561 908 565.4 910.4 L714 991.8 Q716 988 722 988.5 Q732 989 732.9 994.5 Q733 999 730.2 1001.3 L734.2 1004 L1086.4 1205.6"/>
<path class="t" transform="translate(-1.2 2.6)" d="M380.4 807.8 L457.4 851 Q466 855 473.6 853.7 Q495 858 508.7 869.9 L533 891.5 Q538 897 543.8 896.9 L551.9 894.2 Q560 889 566.8 892.9 Q573 897 570.8 899.6 L562.7 905 Q561 908 565.4 910.4 L714 991.8 Q716 988 722 988.5 Q732 989 732.9 994.5 Q733 999 730.2 1001.3 L734.2 1004 L1086.4 1205.6"/>
<path class="t" d="M398 848.3 L1051 1220"/>
<path class="m" d="M391.2 860.5 L457.4 896.9 Q478 902 487.1 907.7 Q497 914 500.6 921.2 Q510 930 527.6 937.4 Q533 942 533 948.3 Q535 954 541.1 956.4 L573.5 972.6 L943.5 1186.3"/>
<path class="t" transform="translate(1 -2.4)" d="M391.2 860.5 L457.4 896.9 Q478 902 487.1 907.7 Q497 914 500.6 921.2 Q510 930 527.6 937.4 Q533 942 533 948.3 Q535 954 541.1 956.4 L573.5 972.6 L943.5 1186.3"/>
<ellipse class="t" cx="411.5" cy="840.2" rx="2.6" ry="3.8" transform="rotate(-20 411.5 840.2)"/>
<ellipse class="t" cx="411.5" cy="861.8" rx="2.6" ry="3.8" transform="rotate(-20 411.5 861.8)"/>
<ellipse class="t" cx="465.5" cy="871.3" rx="2.6" ry="3.8" transform="rotate(-20 465.5 871.3)"/>
<ellipse class="t" cx="496.6" cy="888.3" rx="2.6" ry="3.8" transform="rotate(-20 496.6 888.3)"/>
<ellipse class="t" cx="527.6" cy="902.3" rx="2.6" ry="3.8" transform="rotate(-20 527.6 902.3)"/>
<ellipse class="t" cx="766.6" cy="1040.4" rx="2.6" ry="3.8" transform="rotate(-20 766.6 1040.4)"/>
<ellipse class="t" cx="759.9" cy="1065.3" rx="2.6" ry="3.8" transform="rotate(-20 759.9 1065.3)"/>
<ellipse class="t" cx="796.3" cy="1085" rx="2.6" ry="3.8" transform="rotate(-20 796.3 1085)"/>
<ellipse class="t" cx="836.8" cy="1070.2" rx="2.6" ry="3.8" transform="rotate(-20 836.8 1070.2)"/>
<ellipse class="t" cx="867.9" cy="1088.3" rx="2.6" ry="3.8" transform="rotate(-20 867.9 1088.3)"/>
<ellipse class="t" cx="909.8" cy="1095.8" rx="2.6" ry="3.8" transform="rotate(-20 909.8 1095.8)"/>
<ellipse class="t" cx="918.7" cy="1126.9" rx="2.6" ry="3.8" transform="rotate(-20 918.7 1126.9)"/>
<ellipse class="t" cx="928.7" cy="1137.7" rx="2.6" ry="3.8" transform="rotate(-20 928.7 1137.7)"/>
<ellipse class="t" cx="938.1" cy="1139" rx="2.6" ry="3.8" transform="rotate(-20 938.1 1139)"/>
<ellipse class="t" cx="387" cy="801.5" rx="3.3" ry="2.2" transform="rotate(10 387 801.5)"/>
<ellipse class="t" cx="458.7" cy="837" rx="3.3" ry="2.2" transform="rotate(10 458.7 837)"/>
<ellipse class="t" cx="468.2" cy="842.4" rx="3.3" ry="2.2" transform="rotate(10 468.2 842.4)"/>
<ellipse class="t" cx="531.7" cy="873.4" rx="3.3" ry="2.2" transform="rotate(10 531.7 873.4)"/>
<ellipse class="t" cx="554.6" cy="883.4" rx="3.3" ry="2.2" transform="rotate(10 554.6 883.4)"/>
<ellipse class="t" cx="583" cy="902.7" rx="3.3" ry="2.2" transform="rotate(10 583 902.7)"/>
<ellipse class="t" cx="600.5" cy="917.6" rx="3.3" ry="2.2" transform="rotate(10 600.5 917.6)"/>
<ellipse class="t" cx="658.6" cy="951.3" rx="3.3" ry="2.2" transform="rotate(10 658.6 951.3)"/>
<ellipse class="t" cx="678" cy="961.6" rx="3.3" ry="2.2" transform="rotate(10 678 961.6)"/>
<ellipse class="t" cx="689.1" cy="969.7" rx="3.3" ry="2.2" transform="rotate(10 689.1 969.7)"/>
<ellipse class="t" cx="711.2" cy="981.8" rx="3.3" ry="2.2" transform="rotate(10 711.2 981.8)"/>
<ellipse class="t" cx="772" cy="1009.4" rx="3.3" ry="2.2" transform="rotate(10 772 1009.4)"/>
<ellipse class="t" cx="823.3" cy="1106.6" rx="3.3" ry="2.2" transform="rotate(10 823.3 1106.6)"/>
<ellipse class="t" cx="928.7" cy="1106.6" rx="3.3" ry="2.2" transform="rotate(10 928.7 1106.6)"/>
<ellipse class="t" cx="881.4" cy="1145.2" rx="3.3" ry="2.2" transform="rotate(10 881.4 1145.2)"/>
<ellipse class="t" cx="931.4" cy="1167.4" rx="3.3" ry="2.2" transform="rotate(10 931.4 1167.4)"/>
<ellipse class="t" cx="561.4" cy="956.4" rx="3.3" ry="2.2" transform="rotate(10 561.4 956.4)"/>
<ellipse class="t" cx="581.6" cy="902.3" rx="3.3" ry="2.2" transform="rotate(10 581.6 902.3)"/>
<ellipse class="t w" cx="457.4" cy="878" rx="4.6" ry="6" transform="rotate(25 457.4 878)"/>
<ellipse class="t w" cx="654.5" cy="991.8" rx="4.6" ry="6" transform="rotate(25 654.5 991.8)"/>
<ellipse class="t w" cx="851.7" cy="1103.9" rx="4.6" ry="6" transform="rotate(25 851.7 1103.9)"/>
<ellipse class="t w" cx="1047.2" cy="1216.4" rx="4.6" ry="6" transform="rotate(25 1047.2 1216.4)"/>
<path class="m" d="M430 836 Q430 846 437 846 Q443 844 442 836"/>
<path class="t" d="M553 918 l7 3.5 l0 9 l-7 -3.5 Z M574 922 l4 2 l0 9 l-4 -2 Z"/>
<ellipse class="m" cx="692.3" cy="999.9" rx="10" ry="13" transform="rotate(-20 692.3 999.9)"/>
<ellipse class="t" cx="694" cy="1000.5" rx="8" ry="11" transform="rotate(-20 694 1000.5)"/>
<path class="t" d="M776 1043 Q778 1040 782 1042 L794 1049 Q796 1053 792 1055 Q789 1057 786 1055 L776 1049 Q773 1046 776 1043 Z"/>
<path class="t" d="M834 1079 Q836 1076 839 1078 L849 1086 Q851 1090 848 1092 Q844 1093 842 1090 Q838 1091 835 1087 Z"/>
<path class="w" d="M235.1 882.3 L210 900.5 L210 954.5 L212.8 957.9 L1048.4 1435.5 L1048.4 1389 L922.6 1301.3 L941.5 1286.4 L587 1083.7 L566.8 1072.9 L419.6 987.4 L400 975 L321.5 931 Z" style="stroke:none"/>
<path class="k" d="M235.1 882.3 L211.5 898.5 Q210 900 210 903 L210 952 Q210 956 213.5 958.3 L1048.4 1435.5"/>
<path class="k" d="M235.1 882.3 L321.5 930.9 Q326 934 329.6 941 Q335 949 343.1 954.5 Q352 961 362 965.3 Q375 970.5 389.1 973.4 L398 974.5 Q403 976 403.4 979.3 Q402 983 396.5 983.4 Q393 986 396.6 990.1 Q400 994 406.1 994.2 Q411 994 414.2 991.5 L419.6 987.4 L566.8 1072.9 Q569 1075 565.8 1078.3 Q565 1083 570.8 1085 Q576 1087.5 580.3 1086.4 L587 1083.7 L941.5 1286.4"/>
<path class="t" d="M212.8 897.8 L922.6 1301.3"/>
<ellipse class="t w" cx="265.6" cy="928" rx="4.6" ry="6" transform="rotate(25 265.6 928)"/>
<ellipse class="t w" cx="460" cy="1040" rx="4.6" ry="6" transform="rotate(25 460 1040)"/>
<ellipse class="t w" cx="660" cy="1153.9" rx="4.6" ry="6" transform="rotate(25 660 1153.9)"/>
<ellipse class="t w" cx="855.3" cy="1266.2" rx="4.6" ry="6" transform="rotate(25 855.3 1266.2)"/>
<ellipse class="t" cx="226.3" cy="921.4" rx="2.6" ry="3.8" transform="rotate(-20 226.3 921.4)"/>
<ellipse class="t" cx="223" cy="949.1" rx="2.6" ry="3.8" transform="rotate(-20 223 949.1)"/>
<ellipse class="t" cx="292.5" cy="959.3" rx="2.6" ry="3.8" transform="rotate(-20 292.5 959.3)"/>
<ellipse class="t" cx="277" cy="980.2" rx="2.6" ry="3.8" transform="rotate(-20 277 980.2)"/>
<ellipse class="t" cx="327.6" cy="973.4" rx="2.6" ry="3.8" transform="rotate(-20 327.6 973.4)"/>
<ellipse class="t" cx="308" cy="997.7" rx="2.6" ry="3.8" transform="rotate(-20 308 997.7)"/>
<ellipse class="t" cx="340.4" cy="1012.6" rx="2.6" ry="3.8" transform="rotate(-20 340.4 1012.6)"/>
<ellipse class="t" cx="600" cy="1126.9" rx="2.6" ry="3.8" transform="rotate(-20 600 1126.9)"/>
<ellipse class="t" cx="600.5" cy="1137.7" rx="2.6" ry="3.8" transform="rotate(-20 600.5 1137.7)"/>
<ellipse class="t" cx="577.6" cy="1149.8" rx="2.6" ry="3.8" transform="rotate(-20 577.6 1149.8)"/>
<ellipse class="t" cx="647.8" cy="1179.5" rx="2.6" ry="3.8" transform="rotate(-20 647.8 1179.5)"/>
<ellipse class="t" cx="678.8" cy="1197.1" rx="2.6" ry="3.8" transform="rotate(-20 678.8 1197.1)"/>
<ellipse class="t" cx="741" cy="1206.5" rx="2.6" ry="3.8" transform="rotate(-20 741 1206.5)"/>
<ellipse class="t" cx="741.5" cy="1218.7" rx="2.6" ry="3.8" transform="rotate(-20 741.5 1218.7)"/>
<ellipse class="t" cx="728.8" cy="1236.3" rx="2.6" ry="3.8" transform="rotate(-20 728.8 1236.3)"/>
<ellipse class="t" cx="749.4" cy="1248" rx="2.6" ry="3.8" transform="rotate(-20 749.4 1248)"/>
<ellipse class="t" cx="782.4" cy="1258.1" rx="2.6" ry="3.8" transform="rotate(-20 782.4 1258.1)"/>
<ellipse class="t" cx="812.1" cy="1271.6" rx="2.6" ry="3.8" transform="rotate(-20 812.1 1271.6)"/>
<ellipse class="t" cx="875.6" cy="1294.5" rx="2.6" ry="3.8" transform="rotate(-20 875.6 1294.5)"/>
<ellipse class="t" cx="866.1" cy="1304" rx="2.6" ry="3.8" transform="rotate(-20 866.1 1304)"/>
<ellipse class="t" cx="930.9" cy="1325.6" rx="2.6" ry="3.8" transform="rotate(-20 930.9 1325.6)"/>
<ellipse class="t" cx="930.9" cy="1361.5" rx="2.6" ry="3.8" transform="rotate(-20 930.9 1361.5)"/>
<ellipse class="t" cx="968.2" cy="1383.1" rx="2.6" ry="3.8" transform="rotate(-20 968.2 1383.1)"/>
<ellipse class="t" cx="986.8" cy="1392.3" rx="2.6" ry="3.8" transform="rotate(-20 986.8 1392.3)"/>
<ellipse class="t" cx="1020" cy="1392.3" rx="2.6" ry="3.8" transform="rotate(-20 1020 1392.3)"/>
<ellipse class="t" cx="1039.8" cy="1386.4" rx="2.6" ry="3.8" transform="rotate(-20 1039.8 1386.4)"/>
<ellipse class="t" cx="1039.8" cy="1418.2" rx="2.6" ry="3.8" transform="rotate(-20 1039.8 1418.2)"/>
<ellipse class="t" cx="739.4" cy="1246.8" rx="3.6" ry="5" transform="rotate(-20 739.4 1246.8)"/>
<ellipse class="t" cx="897.2" cy="1301.3" rx="4.2" ry="5.8" transform="rotate(-20 897.2 1301.3)"/>
<path class="t" d="M897.2 1303L871.5 1316"/>
<ellipse class="t" cx="245.9" cy="947.8" rx="6.2" ry="8.8" transform="rotate(-20 245.9 947.8)"/>
<ellipse class="t" cx="400.7" cy="1030.6" rx="7.5" ry="9.6" transform="rotate(-20 400.7 1030.6)"/>
<ellipse class="t" cx="387.2" cy="1037.4" rx="2.6" ry="6.5" transform="rotate(-8 387.2 1037.4)"/>
<path class="t" d="M366.1 1026.8 l7 4 l0 9 l-7 -4 Z"/>
<path class="t" d="M420.1 1036.3 l7 4 l0 9 l-7 -4 Z"/>
<path class="t" d="M399.9 1045.7 l7 4 l0 9 l-7 -4 Z"/>
<path class="t" d="M421.5 1057.9 l7 4 l0 9 l-7 -4 Z"/>
<path class="t" d="M447.1 1043 l7 4 l0 9 l-7 -4 Z"/>
<ellipse class="m" cx="503.3" cy="1107.6" rx="10.5" ry="13.5" transform="rotate(-20 503.3 1107.6)"/>
<ellipse class="t" cx="505" cy="1108.2" rx="8.5" ry="11.5" transform="rotate(-20 505 1108.2)"/>
<ellipse class="t" cx="298.6" cy="929.5" rx="3.6" ry="2.3" transform="rotate(10 298.6 929.5)"/>
<ellipse class="t" cx="308" cy="934.9" rx="3.6" ry="2.3" transform="rotate(10 308 934.9)"/>
<ellipse class="t" cx="362.7" cy="971.4" rx="3.6" ry="2.3" transform="rotate(10 362.7 971.4)"/>
<ellipse class="t" cx="380.3" cy="984.9" rx="3.6" ry="2.3" transform="rotate(10 380.3 984.9)"/>
<ellipse class="t" cx="412.8" cy="1000.9" rx="3.6" ry="2.3" transform="rotate(10 412.8 1000.9)"/>
<ellipse class="t" cx="438.5" cy="1010.4" rx="3.6" ry="2.3" transform="rotate(10 438.5 1010.4)"/>
<ellipse class="t" cx="499.2" cy="1044.1" rx="3.6" ry="2.3" transform="rotate(10 499.2 1044.1)"/>
<ellipse class="t" cx="516.8" cy="1054.9" rx="3.6" ry="2.3" transform="rotate(10 516.8 1054.9)"/>
<ellipse class="t" cx="530.3" cy="1061.7" rx="3.6" ry="2.3" transform="rotate(10 530.3 1061.7)"/>
<ellipse class="t" cx="551.9" cy="1073.8" rx="3.6" ry="2.3" transform="rotate(10 551.9 1073.8)"/>
<ellipse class="t" cx="599.2" cy="1109.3" rx="3.6" ry="2.3" transform="rotate(10 599.2 1109.3)"/>
<ellipse class="t" cx="750.4" cy="1188.5" rx="3.6" ry="2.3" transform="rotate(10 750.4 1188.5)"/>
<ellipse class="t" cx="768" cy="1198.4" rx="3.6" ry="2.3" transform="rotate(10 768 1198.4)"/>
<ellipse class="t" cx="826" cy="1230.9" rx="3.6" ry="2.3" transform="rotate(10 826 1230.9)"/>
<ellipse class="t" cx="897.2" cy="1271.6" rx="3.6" ry="2.3" transform="rotate(10 897.2 1271.6)"/>
<ellipse class="t" cx="236.5" cy="893.8" rx="5" ry="3" transform="rotate(10 236.5 893.8)"/>
<path class="t" d="M586 1153 Q588 1150 592 1152 L604 1159 Q606 1163 602 1165 Q599 1167 596 1165 L586 1159 Q583 1156 586 1153 Z"/>
<path class="t" d="M645 1189 Q647 1186 650 1188 L660 1196 Q662 1200 659 1202 Q655 1203 653 1200 Q649 1201 646 1197 Z"/>
<path class="m" d="M764.8 1233.8 Q770 1228 780 1232 Q795 1238 800.5 1250 Q797 1254 790 1249 Q780 1241 768 1241 Q762 1238 764.8 1233.8 Z"/>
<path class="h" d="M768 1235 Q780 1235 795 1248"/>
<path class="m" d="M781 1274.5 Q779 1268 784 1268 Q789 1270 787 1276 L790.5 1286.4"/>
<path class="t" d="M813.4 1287.8 L827 1304 Q828 1300 826 1296 Z"/>
<path class="t" d="M836 1247 L847 1240.5 L858 1247.5 L847 1254.5 Z M840 1247.5 L847 1243.5 L854 1248"/>
</g>
<g transform="translate(880 1080) scale(0.16880)">
<path class="m" d="M385 640 L505 572 Q520 560 520 510 Q530 485 555 495 Q595 520 592 575 L455 662 L470 690 L650 790 L880 915 L925 908"/>
<path class="t" d="M372 618 L498 548 M470 700 L640 800 L870 928"/>
<path class="m" d="M740 430 L790 395 L850 395 M790 395 L815 470 M740 430 L762 442"/>
<path class="t" d="M770 690 L975 802"/>
<ellipse class="t w" cx="1000" cy="810" rx="32" ry="38" transform="rotate(25 1000 810)"/>
<path class="t" d="M725 590 Q735 575 752 590 L765 625 M775 640 Q790 625 810 645 Q822 665 808 678 Q795 680 785 668"/>
<ellipse class="t" cx="635" cy="715" rx="16" ry="11" transform="rotate(8 635 715)"/>
<ellipse class="t" cx="1045" cy="595" rx="16" ry="10" transform="rotate(8 1045 595)"/>
<ellipse class="t" cx="545" cy="415" rx="14" ry="22" transform="rotate(-20 545 415)"/>
<ellipse class="t" cx="1035" cy="685" rx="14" ry="22" transform="rotate(-20 1035 685)"/>
<path class="k w" d="M280 970 L300 960 L395 1010 L420 965 Q440 945 470 940 L500 945 L690 1065 Q700 1080 700 1100 L700 1180 L720 1195 L715 1300 L690 1305 L615 1265 L615 1180 L640 1120 L470 1030 L410 1100 L380 1115 L285 1060 Z"/>
<path class="t" d="M300 975 L385 1020 L385 1108 M465 958 L465 1032 M430 978 Q450 958 478 958 L660 1070 L650 1105 L690 1132 L700 1180 M640 1120 L690 1150 M628 1185 L700 1225"/>
<ellipse class="t" cx="325" cy="1055" rx="13" ry="18" transform="rotate(-20 325 1055)"/>
<ellipse class="t" cx="650" cy="1245" rx="12" ry="16" transform="rotate(-20 650 1245)"/>
<ellipse class="k" cx="545" cy="1045" rx="25" ry="33" transform="rotate(-20 545 1045)"/>
<ellipse class="t" cx="550" cy="1047" rx="14" ry="20" transform="rotate(-20 550 1047)"/>
<path class="t" d="M610 1005L690 965"/>
<path class="t" d="M470 1075L530 1050"/>
</g>
<g transform="translate(0 0) scale(1.00000)">
<path class="w" d="M1105.3 1197 L1301 1305 L1292 1334 L1345 1365 L1345 1445 L1168 1547 L1168 1558 L1150 1548 L1101 1545 L1089 1535 L1051 1441 L1048.4 1435 L1048.4 1389 L922.6 1301.3 L944.2 1286.4 L965.8 1277 L999.6 1312.8 L1016 1306 L1014.5 1293 L1019 1283 L1014.5 1270 L1019 1263 L1008 1250 Z" style="stroke:none"/>
<path class="k" d="M1105.3 1197 L1301 1305.5"/>
<path class="m" d="M1105.3 1199 L1089 1206.9 L1008 1250.2 L1018.8 1263 L1013.5 1269 L1019.5 1283 L1014 1293.4 L1016.5 1307 L1000 1312.6 L965.8 1277 L944.2 1286.4"/>
<path d="M922.6 1301.3 L1106.4 1411.6" style="stroke-width:4.2"/>
<path class="t" d="M924 1306 L1048 1382"/>
<path class="m" d="M1106.4 1411.6 L1113 1413 L1300.5 1306.5"/>
<path class="k" d="M1300.4 1304.2 Q1303 1308 1302.4 1312 L1295 1328 L1287.5 1338 L1280 1342.5"/>
<path class="m" d="M1297 1323.8 L1297 1356.5 M1280 1348 L1297 1356.5 L1309 1365"/>
<path class="m" d="M1113 1413 L1113.2 1419.5 L1129.4 1429.8 L1297 1331"/>
<path class="k" d="M1133.5 1426.5 L1167 1448.2 Q1170 1451 1169.5 1455 Q1168 1458 1165 1457"/>
<path class="t" d="M1129.4 1429.8 L1136 1426"/>
<path class="t" d="M1167 1448.2 L1316 1362"/>
<ellipse class="k w" cx="1108" cy="1305.5" rx="75.6" ry="41.9"/>
<path class="m" d="M1100 1264.3 L1118 1264.5 L1155.5 1285.5 L1141.7 1300 L1176 1320.5"/>
<path class="t" d="M1118 1266 L1152 1285.5 M1143 1302 L1174 1323"/>
<path class="t" d="M1118 1264.5 Q1150 1268 1172 1284"/>
<g transform="translate(1105.8 1200) rotate(0) scale(1)">
<ellipse class="t w" cx="0" cy="3.5" rx="12" ry="6.5"/>
<ellipse class="t w" cx="0" cy="2" rx="10.5" ry="5.5"/>
<path class="m w" d="M-8 -3 L-8 2.5 L-3 5 L5 4 L8.5 1 L8.5 -4.5 L4 -7.5 L-4 -7 Z"/>
<path class="t" d="M-8 -3 L-3 -0.5 L5 -1.5 L8.5 -4.5 M-3 -0.5 L-3 5 M5 -1.5 L5 4"/>
</g>
<g transform="translate(939.2 1296) rotate(0) scale(1)">
<ellipse class="t w" cx="0" cy="3.5" rx="12" ry="6.5"/>
<ellipse class="t w" cx="0" cy="2" rx="10.5" ry="5.5"/>
<path class="m w" d="M-8 -3 L-8 2.5 L-3 5 L5 4 L8.5 1 L8.5 -4.5 L4 -7.5 L-4 -7 Z"/>
<path class="t" d="M-8 -3 L-3 -0.5 L5 -1.5 L8.5 -4.5 M-3 -0.5 L-3 5 M5 -1.5 L5 4"/>
</g>
<g transform="translate(1268.7 1294.5) rotate(0) scale(1)">
<ellipse class="t w" cx="0" cy="3.5" rx="12" ry="6.5"/>
<ellipse class="t w" cx="0" cy="2" rx="10.5" ry="5.5"/>
<path class="m w" d="M-8 -3 L-8 2.5 L-3 5 L5 4 L8.5 1 L8.5 -4.5 L4 -7.5 L-4 -7 Z"/>
<path class="t" d="M-8 -3 L-3 -0.5 L5 -1.5 L8.5 -4.5 M-3 -0.5 L-3 5 M5 -1.5 L5 4"/>
</g>
<g transform="translate(1103.9 1389) rotate(0) scale(1)">
<ellipse class="t w" cx="0" cy="3.5" rx="12" ry="6.5"/>
<ellipse class="t w" cx="0" cy="2" rx="10.5" ry="5.5"/>
<path class="m w" d="M-8 -3 L-8 2.5 L-3 5 L5 4 L8.5 1 L8.5 -4.5 L4 -7.5 L-4 -7 Z"/>
<path class="t" d="M-8 -3 L-3 -0.5 L5 -1.5 L8.5 -4.5 M-3 -0.5 L-3 5 M5 -1.5 L5 4"/>
</g>
<ellipse class="t" cx="1106.6" cy="1233.4" rx="4.2" ry="2.7"/>
<ellipse class="t" cx="1128.2" cy="1234" rx="4.2" ry="2.7"/>
<ellipse class="t" cx="1194.4" cy="1254.2" rx="4.2" ry="2.7"/>
<ellipse class="t" cx="1228.2" cy="1292" rx="4.2" ry="2.7"/>
<ellipse class="t" cx="1228.2" cy="1317.7" rx="4.2" ry="2.7"/>
<ellipse class="t" cx="1106.6" cy="1377.1" rx="4.2" ry="2.7"/>
<ellipse class="t" cx="1128.2" cy="1375.7" rx="4.2" ry="2.7"/>
<ellipse class="t" cx="981" cy="1303" rx="4.2" ry="2.7"/>
<g transform="translate(1145.2 1409) scale(1)">
<ellipse class="t w" cx="2" cy="0" rx="8" ry="11.5" transform="rotate(-20 2 0)"/>
<ellipse class="t w" cx="0.5" cy="0.5" rx="7.5" ry="10.5" transform="rotate(-20 0.5 0.5)"/>
<path class="m w" d="M-7 -5 L-3 -10 L3.5 -9 L6 -2.5 L3 7 L-3.5 8.5 L-7.5 3 Z"/>
<path class="t" d="M-3 -10 L-1 -3.5 L-7.5 3 M-1 -3.5 L6 -2.5"/>
</g>
<g transform="translate(1205.2 1373.5) scale(1)">
<ellipse class="t w" cx="2" cy="0" rx="8" ry="11.5" transform="rotate(-20 2 0)"/>
<ellipse class="t w" cx="0.5" cy="0.5" rx="7.5" ry="10.5" transform="rotate(-20 0.5 0.5)"/>
<path class="m w" d="M-7 -5 L-3 -10 L3.5 -9 L6 -2.5 L3 7 L-3.5 8.5 L-7.5 3 Z"/>
<path class="t" d="M-3 -10 L-1 -3.5 L-7.5 3 M-1 -3.5 L6 -2.5"/>
</g>
<g transform="translate(1266 1338.5) scale(1)">
<ellipse class="t w" cx="2" cy="0" rx="8" ry="11.5" transform="rotate(-20 2 0)"/>
<ellipse class="t w" cx="0.5" cy="0.5" rx="7.5" ry="10.5" transform="rotate(-20 0.5 0.5)"/>
<path class="m w" d="M-7 -5 L-3 -10 L3.5 -9 L6 -2.5 L3 7 L-3.5 8.5 L-7.5 3 Z"/>
<path class="t" d="M-3 -10 L-1 -3.5 L-7.5 3 M-1 -3.5 L6 -2.5"/>
</g>
<path class="k" d="M1048.6 1389 L1048.6 1435 M1048.6 1389 L1101 1418.5"/>
<path class="t" d="M1101 1418.5 L1101 1546"/>
<path class="h" d="M1104 1420 L1104 1544"/>
<path class="m" d="M1051 1441.5 L1089 1537 Q1092 1545 1101 1547.5 L1105 1548.5 L1131 1533"/>
<g transform="translate(1053.5 1431.5) scale(1)">
<ellipse class="t w" cx="2" cy="0" rx="8" ry="11.5" transform="rotate(-20 2 0)"/>
<ellipse class="t w" cx="0.5" cy="0.5" rx="7.5" ry="10.5" transform="rotate(-20 0.5 0.5)"/>
<path class="m w" d="M-7 -5 L-3 -10 L3.5 -9 L6 -2.5 L3 7 L-3.5 8.5 L-7.5 3 Z"/>
<path class="t" d="M-3 -10 L-1 -3.5 L-7.5 3 M-1 -3.5 L6 -2.5"/>
</g>
<g transform="translate(1086.5 1424) scale(1)">
<ellipse class="t w" cx="2" cy="0" rx="8" ry="11.5" transform="rotate(-20 2 0)"/>
<ellipse class="t w" cx="0.5" cy="0.5" rx="7.5" ry="10.5" transform="rotate(-20 0.5 0.5)"/>
<path class="m w" d="M-7 -5 L-3 -10 L3.5 -9 L6 -2.5 L3 7 L-3.5 8.5 L-7.5 3 Z"/>
<path class="t" d="M-3 -10 L-1 -3.5 L-7.5 3 M-1 -3.5 L6 -2.5"/>
</g>
<g transform="translate(1085 1450.5) scale(1)">
<ellipse class="t w" cx="2" cy="0" rx="8" ry="11.5" transform="rotate(-20 2 0)"/>
<ellipse class="t w" cx="0.5" cy="0.5" rx="7.5" ry="10.5" transform="rotate(-20 0.5 0.5)"/>
<path class="m w" d="M-7 -5 L-3 -10 L3.5 -9 L6 -2.5 L3 7 L-3.5 8.5 L-7.5 3 Z"/>
<path class="t" d="M-3 -10 L-1 -3.5 L-7.5 3 M-1 -3.5 L6 -2.5"/>
</g>
<ellipse class="t" cx="1048" cy="1382" rx="5" ry="6"/>
<ellipse class="t" cx="1128.5" cy="1473" rx="4.5" ry="6.5" transform="rotate(20 1128.5 1473)"/>
<ellipse class="t" cx="1146" cy="1463" rx="3" ry="5" transform="rotate(20 1146 1463)"/>
<ellipse class="t" cx="1112" cy="1537" rx="2.5" ry="3.5" transform="rotate(-30 1112 1537)"/>
<ellipse class="h" cx="1105.5" cy="1545" rx="2" ry="2.5"/>
<path class="m" d="M1131 1533 L1134 1519 Q1135 1515 1139 1513 L1150 1507"/>
<path class="t" d="M1136 1520 L1150 1528 M1139 1513 L1150 1519"/>
<path class="k w" d="M1151.5 1455.5 L1165 1447.5 M1151.5 1455.5 L1151.5 1541.5 L1168.5 1551.5 L1168.5 1538 L1310.5 1457 L1313.5 1449 L1329.5 1439 L1345.5 1447.5 L1345.5 1361 L1329.5 1352.5 L1317.5 1358 L1319 1373 L1315 1373 L1311 1363.5 L1165 1447.5"/>
<path class="m" d="M1153 1457 L1168.5 1465 L1168.5 1540 M1329.5 1352.5 L1329.5 1439"/>
<path class="h" d="M1166 1466 L1166 1538"/>
<path class="t" d="M1172 1462 L1305 1385"/>
<ellipse class="t" cx="1158.5" cy="1473" rx="2.6" ry="3.8" transform="rotate(20 1158.5 1473)"/>
<ellipse class="t" cx="1158.5" cy="1526.5" rx="2.6" ry="3.8" transform="rotate(20 1158.5 1526.5)"/>
<ellipse class="t" cx="1338.5" cy="1369" rx="2.6" ry="3.8" transform="rotate(20 1338.5 1369)"/>
<ellipse class="t" cx="1338.5" cy="1423" rx="2.6" ry="3.8" transform="rotate(20 1338.5 1423)"/>
<ellipse class="t" cx="1293" cy="1424" rx="2.6" ry="3.8" transform="rotate(20 1293 1424)"/>
<ellipse class="t" cx="1266.5" cy="1451" rx="2.6" ry="3.8" transform="rotate(20 1266.5 1451)"/>
<ellipse class="t" cx="1188" cy="1485.5" rx="2.6" ry="3.8" transform="rotate(20 1188 1485.5)"/>
<ellipse class="t" cx="1205" cy="1487" rx="2.6" ry="3.8" transform="rotate(20 1205 1487)"/>
<ellipse class="m w" cx="1244.5" cy="1452.5" rx="17" ry="23" transform="rotate(18 1244.5 1452.5)"/>
<ellipse class="m" cx="1247.5" cy="1452.5" rx="13.5" ry="19.5" transform="rotate(18 1247.5 1452.5)"/>
<ellipse class="t" cx="1249.5" cy="1452.5" rx="11" ry="17" transform="rotate(18 1249.5 1452.5)"/>
<path class="t" d="M1247 1434 Q1250 1431 1249 1428 M1224 1474 L1228 1472"/>
</g>
<g transform="translate(0 900) scale(0.33761)">
<text x="791" y="522">32</text>
<polygon class="b" style="stroke:none" points="889.126,530.445 890.874,523.555 1028.25,560.995 1027.75,563.005"/>
<text x="1348" y="272">26</text>
<polygon class="b" style="stroke:none" points="1439.07,258.43 1440.93,251.57 1532.27,279 1531.73,281"/>
<text x="1148" y="767">26</text>
<polygon class="b" style="stroke:none" points="1249.38,748.499 1250.62,741.501 1435.18,776.979 1434.82,779.021"/>
<text x="1238" y="1197">31</text>
<polygon class="b" style="stroke:none" points="1327.49,1122.54 1322.51,1117.46 1424.27,1021.26 1425.73,1022.74"/>
<text x="1108" y="12">37</text>
<polygon class="b" style="stroke:none" points="1183.41,18.1792 1186.59,11.8208 1325.46,84.0727 1324.54,85.9273"/>
<g transform="translate(1365 118) scale(1)">
<ellipse class="t w" cx="8" cy="2" rx="34" ry="42" transform="rotate(-20 8 2)"/>
<ellipse class="t w" cx="4" cy="3" rx="32" ry="40" transform="rotate(-20 4 3)"/>
<path class="m w" d="M-34 -8 L-22 -32 L6 -36 L26 -18 L22 12 L-2 32 L-28 22 Z"/>
<path class="t" d="M-22 -32 L-14 -12 L-28 22 M-14 -12 L12 -16 L26 -18 M12 -16 L22 12"/>
<ellipse class="t" cx="-8" cy="4" rx="14" ry="17" transform="rotate(-20 -8 4)"/>
<ellipse class="t" cx="-8" cy="4" rx="8" ry="10" transform="rotate(-20 -8 4)"/>
</g>
<path class="t" d="M1405 98L1560 9"/>
<path class="t" d="M1130 578L1352 450"/>
<ellipse class="m w" cx="1092" cy="600" rx="40" ry="54" transform="rotate(-22 1092 600)"/>
<ellipse class="t w" cx="1084" cy="604" rx="34" ry="48" transform="rotate(-22 1084 604)"/>
<path class="m w" d="M1052 575 L1012 598 Q990 615 1000 645 Q1015 670 1040 662 L1078 642 Q1090 610 1052 575 Z"/>
<ellipse class="m w" cx="1022" cy="635" rx="22" ry="30" transform="rotate(-22 1022 635)"/>
<ellipse class="t" cx="1022" cy="635" rx="12" ry="17" transform="rotate(-22 1022 635)"/>
<path class="t" d="M1000 655L800 770"/>
<path class="b" d="M733 810 L828 725 L815 768 L860 768 Z" style="stroke-width:1"/>
<path class="t" d="M1473.6 382 L1517.4 356.6 L1500 400.5"/>
<path class="t" d="M1375 645 L1350 695 M1340 712 L1220 955 L1320 905"/>
</g>
<g transform="translate(230 1040) scale(0.33761)">
<path class="m" d="M785 395 L688 450 M805 420 L708 475"/>
<path class="t" d="M798 408L700 462"/>
<path class="t" d="M690 446 q14 8 6 30"/>
<path class="t" d="M676 454 q14 8 6 30"/>
<path class="t" d="M662 462 q14 8 6 30"/>
<path class="t" d="M648 470 q14 8 6 30"/>
<path class="t" d="M634 478 q14 8 6 30"/>
<ellipse class="t w" cx="632" cy="490" rx="9" ry="14" transform="rotate(-20 632 490)"/>
<ellipse class="m w" cx="818" cy="382" rx="38" ry="45" transform="rotate(-15 818 382)"/>
<path class="t" d="M785 378 L808 365 L826 384 L822 410 L797 416 Z M808 365 L808 392 L822 410 M808 392 L785 400"/>
<path class="m w" d="M1352 728 Q1343 745 1358 757 L1394 742 L1388 712 Z"/>
<ellipse class="t" cx="1357" cy="742" rx="8" ry="14" transform="rotate(-20 1357 742)"/>
<path class="m w" d="M1385 705 L1400 690 L1418 698 L1422 725 L1408 745 L1390 738 Z"/>
<path class="t" d="M1400 690 L1404 718 L1390 738 M1404 718 L1422 725"/>
<path class="t" d="M1418 698 L1438 686 L1446 708 L1422 722"/>
<path class="t" d="M1426 694L1432 716"/>
<path class="t" d="M1432 690L1438 712"/>
</g>
<g transform="translate(500 900) scale(0.33761)">
<text x="806" y="187">32</text>
<polygon class="b" style="stroke:none" points="770.874,136.555 769.126,143.445 631.745,106.005 632.255,103.995"/>
<text x="338" y="505">45</text>
<polygon class="b" style="stroke:none" points="355.199,426.451 348.801,429.549 289.067,300.452 290.933,299.548"/>
<text x="820" y="787">39</text>
<polygon class="b" style="stroke:none" points="917.192,776.461 918.808,769.539 1055.24,803.99 1054.76,806.01"/>
<text x="813" y="1330">39</text>
<polygon class="b" style="stroke:none" points="868.268,1251.4 861.732,1248.6 989.047,957.592 990.953,958.408"/>
<text x="366" y="995">30</text>
<polygon class="b" style="stroke:none" points="445.537,1012.56 450.463,1007.44 550.718,1107.25 549.282,1108.75"/>
<path class="t" d="M960 -10 L960 230 M960 240 L960 247 M960 260 L960 595 M960 630 L960 960"/>
<ellipse class="t" cx="958" cy="610" rx="10" ry="7"/>
<ellipse class="t" cx="965" cy="985" rx="9" ry="6"/>
<path class="t" d="M1220 -10 L1220 80 M1220 110 L1220 480 M1220 505 L1220 900 Q1220 1000 1205 1068"/>
<path class="t" d="M1275 -10 L1275 130 M1275 160 L1275 560 M1275 590 L1275 850 Q1280 990 1335 1042"/>
<path class="t" d="M525 85L345 188"/>
<path class="m w" d="M585 20 L640 -8 Q665 -5 662 25 Q655 45 640 48 L598 70 Z"/>
<ellipse class="m w" cx="565" cy="62" rx="40" ry="52" transform="rotate(-22 565 62)"/>
<path class="t" d="M548 62 L566 42 L580 60 L562 80 Z"/>
<path class="k w" d="M222 100 L335 160 L345 165 L345 335 L335 330 L222 270 Z"/>
<path class="m" d="M335 160 L335 330"/>
<path class="m" d="M258 112 L270 105 L280 122 M325 150 L338 158"/>
<path class="m" d="M258 170 L292 188 L292 222 L258 204 Z"/>
<path class="m" d="M120 290 L262 222 M132 318 L270 250"/>
<path class="t" d="M182 254 q14 8 2 34"/>
<path class="t" d="M196 247 q14 8 2 34"/>
<path class="t" d="M210 240 q14 8 2 34"/>
<path class="t" d="M224 233 q14 8 2 34"/>
<path class="t" d="M238 226 q14 8 2 34"/>
<path class="t" d="M252 219 q14 8 2 34"/>
<path class="t" d="M262 222 Q275 225 270 250"/>
<ellipse class="m w" cx="85" cy="318" rx="40" ry="46" transform="rotate(-15 85 318)"/>
<path class="m" d="M62 345 Q85 365 112 345 Q100 352 75 340 Z"/>
<path class="t" d="M112 290 L128 300 L128 325 L115 330"/>
<g transform="translate(1112 828) scale(1 1)">
<ellipse class="t w" cx="8" cy="2" rx="34" ry="42" transform="rotate(-20 8 2)"/>
<ellipse class="t w" cx="4" cy="3" rx="32" ry="40" transform="rotate(-20 4 3)"/>
<path class="m w" d="M-34 -8 L-22 -32 L6 -36 L26 -18 L22 12 L-2 32 L-28 22 Z"/>
<path class="t" d="M-22 -32 L-14 -12 L-28 22 M-14 -12 L12 -16 L26 -18 M12 -16 L22 12"/>
<ellipse class="t" cx="-8" cy="4" rx="14" ry="17" transform="rotate(-20 -8 4)"/>
<ellipse class="t" cx="-8" cy="4" rx="8" ry="10" transform="rotate(-20 -8 4)"/>
</g>
<path class="t" d="M1150 805L1300 712"/>
<g transform="translate(1005 895) scale(-1 1)">
<ellipse class="t w" cx="8" cy="2" rx="34" ry="42" transform="rotate(-20 8 2)"/>
<ellipse class="t w" cx="4" cy="3" rx="32" ry="40" transform="rotate(-20 4 3)"/>
<path class="m w" d="M-34 -8 L-22 -32 L6 -36 L26 -18 L22 12 L-2 32 L-28 22 Z"/>
<path class="t" d="M-22 -32 L-14 -12 L-28 22 M-14 -12 L12 -16 L26 -18 M12 -16 L22 12"/>
<ellipse class="t" cx="-8" cy="4" rx="14" ry="17" transform="rotate(-20 -8 4)"/>
<ellipse class="t" cx="-8" cy="4" rx="8" ry="10" transform="rotate(-20 -8 4)"/>
</g>
<path class="t" d="M975 912L940 935"/>
<path class="t" d="M640 1105L742 1045"/>
<path class="k w" d="M-82 915 L190 1070 L430 1112 L500 1160 Q525 1180 520 1215 Q510 1245 480 1245 L420 1200 L185 1158 L-50 1021 Q-92 1002 -102 965 Q-110 922 -82 915 Z"/>
<path class="t" d="M190 1070 L185 1160 M430 1112 L420 1200"/>
<path class="h" d="M-85 935 L188 1092"/>
<path class="t" d="M496 1190L548 1160"/>
<ellipse class="m" cx="-68" cy="972" rx="12" ry="18" transform="rotate(-20 -68 972)"/>
<ellipse class="t" cx="-66" cy="972" rx="8" ry="13" transform="rotate(-20 -66 972)"/>
<ellipse class="m" cx="480" cy="1200" rx="14" ry="20" transform="rotate(-20 480 1200)"/>
<ellipse class="t" cx="482" cy="1200" rx="9" ry="14" transform="rotate(-20 482 1200)"/>
<path class="t" d="M470 1205L200 1340"/>
</g>
<g transform="translate(0 0) scale(1.00000)">
<g transform="translate(545.6 1335.5)">
<path d="M0 0 L1.75 -28.75 Q1.25 -41.25 -7.5 -42 Q-16.25 -41.25 -15.5 -35 L-8.25 -19.25 L-15.75 -15" style="stroke-width:3.4;stroke-linecap:round"/>
<path d="M0 0 L1.75 -28.75 Q1.25 -41.25 -7.5 -42 Q-16.25 -41.25 -15.5 -35 L-8.25 -19.25 L-15.75 -15" style="stroke:#fdfffc;stroke-width:1.2;stroke-linecap:round"/>
</g>
</g>
<g transform="translate(500 900) scale(0.33761)">
<path class="t" d="M135 1290L135 1340"/>
<polygon class="b" style="stroke:none" points="-22.4867,1322.51 -27.5133,1317.49 74.2669,1219.27 75.7331,1220.73"/>
</g>
<g transform="translate(1280 1180) scale(0.13572)">
<polygon class="b" style="stroke:none" points="566.48,482.365 583.52,477.635 670.485,814.31 665.515,815.69"/>
<path class="t" d="M603 825L603 1020"/>
<path class="t" d="M603 1130 L603 1380 Q600 1480 510 1500"/>
<path class="k w" d="M700 890 L795 820 L825 830 L825 965 L760 930 Z"/>
<path class="t" d="M720 890 L800 838 L812 960"/>
<ellipse class="m" cx="790" cy="915" rx="14" ry="24" transform="rotate(20 790 915)"/>
<path class="k w" d="M455 1025 L700 888 L855 1000 L645 1125 Z"/>
<path class="t" d="M462 1040 L645 1140 L850 1018"/>
<ellipse class="t" cx="610" cy="1025" rx="26" ry="14"/>
<path class="k" d="M645 1125 L645 1262 M855 1000 L895 998 Q910 1005 910 1035 L980 1095 Q992 1110 992 1140 L990 1385 L1030 1440 L1000 1480 L920 1497 L700 1335"/>
<path class="t" d="M655 1135 L850 1022 L880 1022 Q892 1030 892 1050 L962 1108 Q972 1120 972 1145 L970 1395 L905 1415 Q800 1400 720 1330"/>
<path class="t" d="M970 1395 L1000 1440 L995 1475"/>
<ellipse class="k w" cx="790" cy="1240" rx="30" ry="55" transform="rotate(-12 790 1240)"/>
<ellipse class="m" cx="782" cy="1242" rx="18" ry="42" transform="rotate(-12 782 1242)"/>
<path class="b" d="M538 1352 L702 1218 L686 1290 L735 1288 Z" style="stroke-width:1"/>
</g>
<g transform="translate(981 900) scale(0.33761)">
<text x="190" y="68">24</text>
<polygon class="b" style="stroke:none" points="294.366,68.4974 295.634,61.5026 488.185,98.9799 487.815,101.02"/>
<text x="898" y="80">43</text>
<polygon class="b" style="stroke:none" points="944.578,118.959 951.422,117.041 985.998,249.72 984.002,250.28"/>
<text x="-8" y="455">30</text>
<polygon class="b" style="stroke:none" points="81.0713,445.431 82.9287,438.569 215.271,476.999 214.729,479.001"/>
<text x="153" y="672">40</text>
<polygon class="b" style="stroke:none" points="158.949,700.177 165.051,703.823 -24.11,1015.53 -25.89,1014.47"/>
<text x="816" y="742">25</text>
<polygon class="b" style="stroke:none" points="797.438,647.413 792.562,652.587 534.289,405.754 535.711,404.246"/>
<text x="1063" y="975">41</text>
<path class="t" d="M1240 1225 L1240 1010 M1240 985 L1240 935 M1240 910 L1240 660 Q1235 540 1180 505 M1150 485 Q1060 445 960 498 L845 565 M815 582 L795 593 M765 610 L630 688 M600 705 L580 716 M550 733 L500 762 Q430 815 405 770 Q385 700 430 640 L470 605"/>
<path d="M478 602 L1035 284" style="stroke-width:15;stroke-linecap:butt"/>
<path d="M478 602 L1035 284" style="stroke:#fdfffc;stroke-width:11.2;stroke-linecap:butt"/>
<ellipse class="t w" cx="478" cy="602" rx="17" ry="25" transform="rotate(-25 478 602)"/>
<ellipse class="b" cx="513" cy="598" rx="2" ry="2"/>
<path class="m w" d="M1000 280 L1040 252 Q1060 262 1060 290 Q1050 315 1030 320 Z"/>
<path class="t" d="M1020 300 Q1030 280 1052 272"/>
<path class="k w" d="M-38 62 L245 222 L330 372 L392 400 Q412 420 410 450 Q405 480 380 487 L312 448 L230 302 L-40 148 Q-60 135 -62 105 Q-60 68 -38 62 Z"/>
<path class="t" d="M245 222 L230 302 M330 372 L312 448"/>
<path class="h" d="M-50 85 L240 246"/>
<ellipse class="m" cx="-25" cy="120" rx="11" ry="17" transform="rotate(-20 -25 120)"/>
<ellipse class="t" cx="-23" cy="120" rx="7" ry="12" transform="rotate(-20 -23 120)"/>
<ellipse class="m" cx="368" cy="440" rx="14" ry="19" transform="rotate(-20 368 440)"/>
<ellipse class="t" cx="370" cy="440" rx="9" ry="13" transform="rotate(-20 370 440)"/>
<path class="t" d="M400 415L470 377"/>
<path class="t" d="M535 337L600 300"/>
<path class="t" d="M548 230L548 332"/>
<ellipse class="t w" cx="505.12" cy="359" rx="32" ry="40" transform="rotate(-22 505.12 359)"/>
<ellipse class="m w" cx="500" cy="357" rx="32" ry="40" transform="rotate(-22 500 357)"/>
<ellipse class="t" cx="500" cy="357" rx="14.4" ry="18" transform="rotate(-22 500 357)"/>
<ellipse class="h" cx="500" cy="357" rx="8" ry="11" transform="rotate(-22 500 357)"/>
</g>
<g transform="translate(0 0) scale(1.00000)">
<g transform="translate(1166 977.6)">
<path d="M0 0 L1.75 -28.75 Q1.25 -41.25 -7.5 -42 Q-16.25 -41.25 -15.5 -35 L-8.25 -19.25 L-15.75 -15" style="stroke-width:3.4;stroke-linecap:round"/>
<path d="M0 0 L1.75 -28.75 Q1.25 -41.25 -7.5 -42 Q-16.25 -41.25 -15.5 -35 L-8.25 -19.25 L-15.75 -15" style="stroke:#fdfffc;stroke-width:1.2;stroke-linecap:round"/>
</g>
</g>
<g transform="translate(981 900) scale(0.33761)">
</g>
<g transform="translate(740 300) scale(0.50000)">
<path class="t w" d="M628 1541 L646 1530 L654 1550 L636 1561 Z"/>
<path class="t" d="M634 1538L641 1557"/>
<path class="t" d="M640 1534L647 1553"/>
<path class="m w" d="M645 1523 L660 1515 L673 1525 L673 1546 L658 1556 L647 1546 Z"/>
<path class="t" d="M660 1515 L660 1537 L673 1546 M660 1537 L647 1546"/>
<path class="m w" d="M672 1520 L690 1511 Q701 1515 698 1529 L674 1541"/>
<ellipse class="t" cx="693" cy="1520" rx="5" ry="9" transform="rotate(-20 693 1520)"/>
</g>
<g transform="translate(981 900) scale(0.33761)">
<path class="t" d="M310 478L350 455"/>
<path class="t" d="M215 540 L120 590 M95 603 L75 613 M45 628 L-10 658"/>
</g>
<g transform="translate(500 1350) scale(0.33761)">
<text x="-107" y="67">24</text>
<text x="341" y="244">25</text>
<polygon class="b" style="stroke:none" points="337.588,172.563 332.412,177.437 237.245,72.7107 238.755,71.2893"/>
<text x="228" y="634">44</text>
<polygon class="b" style="stroke:none" points="335.927,585.431 334.073,578.569 471.73,543.999 472.27,546.001"/>
<text x="1170" y="289">15</text>
<polygon class="b" style="stroke:none" points="1152.5,209.473 1147.5,214.527 1054.27,118.737 1055.73,117.263"/>
<path class="t" d="M135 -25L135 55"/>
<path class="t" d="M105 75L170 40"/>
<path class="t" d="M222 12L260 -8"/>
<ellipse class="t w" cx="199.8" cy="26.9" rx="30" ry="38" transform="rotate(-22 199.8 26.9)"/>
<ellipse class="m w" cx="195" cy="25" rx="30" ry="38" transform="rotate(-22 195 25)"/>
<ellipse class="t" cx="195" cy="25" rx="13.5" ry="17.1" transform="rotate(-22 195 25)"/>
<ellipse class="h" cx="195" cy="25" rx="8" ry="11" transform="rotate(-22 195 25)"/>
<ellipse class="t w" cx="1032" cy="72" rx="26" ry="34" transform="rotate(-25 1032 72)"/>
<ellipse class="t w" cx="1028" cy="74" rx="24" ry="32" transform="rotate(-25 1028 74)"/>
<path class="m w" d="M998 70 L1008 48 L1030 44 L1046 60 L1040 88 L1018 98 L1000 88 Z"/>
<path class="t" d="M1008 48 L1016 66 L1000 88 M1016 66 L1046 60"/>
<path class="t" d="M1052 52 L1095 32 M1060 78 L1100 52"/>
<path class="t" d="M1060 48 q10 8 0 26"/>
<path class="t" d="M1070 43 q10 8 0 26"/>
<path class="t" d="M1080 38 q10 8 0 26"/>
<path class="t" d="M1090 33 q10 8 0 26"/>
<path class="t" d="M1098 42L1273 -74"/>
<path class="k w" d="M750 100 Q720 105 718 140 Q722 175 745 188 L1218 462 L1225 468 L880 668 L325 345 Q300 350 296 385 Q298 420 320 435 L865 745 Q885 752 905 742 L1300 512 L1300 428 Q1295 410 1280 402 Z"/>
<path class="t" d="M762 118 L1270 412 Q1282 420 1275 430 L895 652 Q880 660 865 652 L335 362"/>
<path class="t" d="M880 672 L880 745"/>
<path class="t" d="M855 635L1215 430"/>
<path class="t" d="M795 668L630 765"/>
<ellipse class="m" cx="752" cy="157" rx="11" ry="16" transform="rotate(-20 752 157)"/>
<ellipse class="m" cx="330" cy="400" rx="12" ry="18" transform="rotate(-20 330 400)"/>
<ellipse class="t" cx="1217" cy="428" rx="8" ry="12" transform="rotate(-20 1217 428)"/>
<ellipse class="t" cx="797" cy="668" rx="8" ry="12" transform="rotate(-20 797 668)"/>
<path class="t" d="M1275 390L1372 335"/>
<path class="b" d="M1432 300 L1345 352 L1372 335 L1350 322 Z" style="stroke-width:1"/>
<path class="b" d="M1432 300 L1375 355 L1378 332 L1348 320 Z" style="stroke-width:1"/>
<path class="t" d="M630 765 Q780 870 940 918 M985 930 L1020 934 M1060 937 Q1200 935 1300 880 Q1370 825 1424 778"/>
<text x="1443" y="1037">7</text>
</g>
<g transform="translate(981 1350) scale(0.33761)">
<text x="116" y="880">42</text>
<polygon class="b" style="stroke:none" points="215.892,853.441 214.108,846.559 349.74,813.996 350.26,816.004"/>
<text x="868" y="844">15</text>
<polygon class="b" style="stroke:none" points="838.307,824.875 841.693,831.125 720.494,893.912 719.506,892.088"/>
<text x="588" y="1102">24</text>
<polygon class="b" style="stroke:none" points="547.043,1086.58 548.957,1093.42 412.279,1129 411.721,1127"/>
<polygon class="b" style="stroke:none" points="75.892,1006.44 74.108,999.559 209.74,966.996 210.26,969.004"/>
<polygon class="b" style="stroke:none" points="841.468,635.398 848.532,634.602 861.03,767.884 858.97,768.116"/>
<path class="t" d="M0 777 Q80 735 230 728 M260 727 L288 727 M325 728 L600 775"/>
<path class="t" d="M392 545 Q470 600 440 640 Q330 690 330 725 Q335 745 395 760"/>
<path class="k w" d="M375 750 L440 725 L545 655 L615 700 L612 718 L520 775 L560 812 L555 930 L535 970 L495 970 L425 915 L440 880 L410 885 L368 800 Z"/>
<path class="t" d="M385 755 L442 735 L540 672 M378 800 L415 872 M430 735 L430 880 M438 905 L500 955 L535 950 L545 925 L548 815 L512 780"/>
<path class="t" d="M545 758 L600 775 L560 795"/>
<ellipse class="t" cx="400" cy="775" rx="7" ry="10" transform="rotate(-20 400 775)"/>
<ellipse class="t" cx="550" cy="690" rx="9" ry="6"/>
<ellipse class="m" cx="478" cy="858" rx="14" ry="23" transform="rotate(-20 478 858)"/>
<ellipse class="t" cx="481" cy="858" rx="10" ry="18" transform="rotate(-20 481 858)"/>
<path class="t" d="M400 775 L455 805 M475 815 L490 823 M512 835 L600 885"/>
<ellipse class="t w" cx="284.4" cy="962.5" rx="40" ry="50" transform="rotate(-22 284.4 962.5)"/>
<ellipse class="m w" cx="278" cy="960" rx="40" ry="50" transform="rotate(-22 278 960)"/>
<ellipse class="t" cx="278" cy="960" rx="16.8" ry="21" transform="rotate(-22 278 960)"/>
<ellipse class="t" cx="270" cy="963" rx="14" ry="20" transform="rotate(-22 270 963)"/>
<path class="t" d="M320 940L440 875"/>
<path class="t" d="M165 1025L252 975"/>
<path class="t" d="M195 1015L292 1068"/>
<path class="m" d="M292 1068 L355 1105 Q385 1125 378 1155 Q365 1175 345 1160 L325 1112 L298 1125 L312 1135"/>
<path class="t" d="M292 1078 L348 1112 Q372 1128 368 1150"/>
<ellipse class="t w" cx="672" cy="922" rx="24" ry="32" transform="rotate(-25 672 922)"/>
<ellipse class="t w" cx="668" cy="924" rx="22" ry="30" transform="rotate(-25 668 924)"/>
<path class="m w" d="M640 920 L648 898 L670 894 L686 910 L682 938 L660 948 L642 938 Z"/>
<path class="t" d="M648 898 L656 916 L642 938 M656 916 L686 910"/>
<path class="t" d="M600 880L608 905"/>
<path class="t" d="M609 885L617 910"/>
<path class="t" d="M618 890L626 915"/>
<path class="t" d="M627 895L635 920"/>
<path class="t" d="M840 395L840 512"/>
<path class="t" d="M822 520 L858 520 M820 535 L860 535 M818 550 L862 550 M822 565 L858 565"/>
<path class="t" d="M830 512 L830 570 M850 512 L850 570"/>
<ellipse class="m w" cx="840" cy="578" rx="32" ry="14"/>
<path class="m w" d="M815 585 L820 600 L840 608 L862 600 L866 585"/>
<path class="t" d="M828 600 L828 590 M852 600 L852 590"/>
</g>
<g transform="translate(0 0) scale(1.00000)">
<text x="1322" y="1784.6" style="font-family:'Liberation Serif',serif;font-size:37px;letter-spacing:1.2px"><tspan fill="#4a6db3">m</tspan><tspan fill="#4aa848">o</tspan><tspan fill="#e85aa0">t</tspan><tspan fill="#2a9a40">o</tspan><tspan fill="#e8501a">r</tspan><tspan fill="#f0901a">u</tspan><tspan fill="#f5c81a">f</tspan></text>
<text x="1450.5" y="1784.6" style="font-size:14.5px;fill:#333">.de</text>
</g>
</svg>
</body></html>
